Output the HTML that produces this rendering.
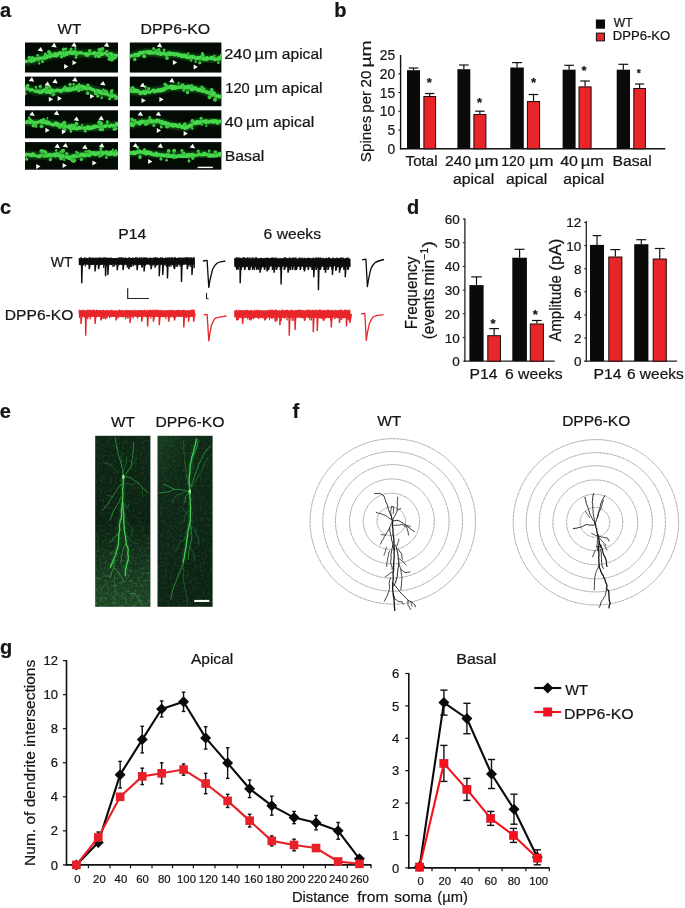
<!DOCTYPE html>
<html lang="en"><head><meta charset="utf-8"><title>Figure</title>
<style>
html,body{margin:0;padding:0;background:#fff;}
svg{display:block;font-family:"Liberation Sans",Arial,Helvetica,sans-serif;}
text{fill:#151515;stroke:#151515;stroke-width:0.22px;}
</style></head>
<body>
<svg width="685" height="908" viewBox="0 0 685 908">
<rect x="0" y="0" width="685" height="908" fill="#ffffff"/>
<text x="0.1" y="17" font-size="20" text-anchor="start" font-weight="bold" fill="#0a0a0a" >a</text>
<text x="334.2" y="17" font-size="20" text-anchor="start" font-weight="bold" fill="#0a0a0a" >b</text>
<text x="0.1" y="214.2" font-size="20" text-anchor="start" font-weight="bold" fill="#0a0a0a" >c</text>
<text x="406.9" y="214.3" font-size="20" text-anchor="start" font-weight="bold" fill="#0a0a0a" >d</text>
<text x="-0.2" y="418.2" font-size="20" text-anchor="start" font-weight="bold" fill="#0a0a0a" >e</text>
<text x="292.4" y="418.2" font-size="20" text-anchor="start" font-weight="bold" fill="#0a0a0a" >f</text>
<text x="0.1" y="654" font-size="20" text-anchor="start" font-weight="bold" fill="#0a0a0a" >g</text>
<text transform="translate(57.62,34.30) scale(0.9825,1)" font-size="15.5" fill="#1a1a1a">WT</text>
<text transform="translate(140.53,34.40) scale(1.0241,1)" font-size="15.5" fill="#1a1a1a">DPP6-KO</text>
<defs><filter id="bl" x="-5%" y="-50%" width="110%" height="200%"><feGaussianBlur stdDeviation="0.7"/></filter><filter id="bl2" x="-5%" y="-50%" width="110%" height="200%"><feGaussianBlur stdDeviation="1.6"/></filter></defs>
<rect x="25.00" y="42.50" width="93.00" height="30.05" fill="#040b05" stroke="none" stroke-width="0" />
<clipPath id="cp1"><rect x="25.0" y="42.5" width="93.00" height="30.05"/></clipPath>
<g clip-path="url(#cp1)">
<path d="M24.9,61.8 L39.9,58.7 L53.7,54.9 L70.6,52.6 L87.4,54.1 L102.8,53.3 L118.2,55.6" fill="none" stroke="#1f7a24" stroke-width="6.5" stroke-linejoin="round" filter="url(#bl2)" opacity="0.75"/>
<g fill="#46d84c" filter="url(#bl)"><circle cx="24.8" cy="61.2" r="2.0"/><circle cx="26.0" cy="61.6" r="1.6"/><circle cx="27.4" cy="61.2" r="1.2"/><circle cx="29.0" cy="60.2" r="1.3"/><circle cx="30.3" cy="61.3" r="1.3"/><circle cx="31.6" cy="60.6" r="2.3"/><circle cx="33.1" cy="59.9" r="2.4"/><circle cx="34.2" cy="60.5" r="1.5"/><circle cx="35.6" cy="58.9" r="1.6"/><circle cx="37.4" cy="58.7" r="1.9"/><circle cx="38.6" cy="58.8" r="1.9"/><circle cx="39.6" cy="57.9" r="1.4"/><circle cx="41.3" cy="58.2" r="1.6"/><circle cx="42.5" cy="57.9" r="1.6"/><circle cx="43.8" cy="58.0" r="1.5"/><circle cx="45.0" cy="57.4" r="2.3"/><circle cx="46.3" cy="56.6" r="2.4"/><circle cx="47.2" cy="56.5" r="2.1"/><circle cx="48.5" cy="56.3" r="1.2"/><circle cx="50.0" cy="56.4" r="1.9"/><circle cx="51.4" cy="55.3" r="2.0"/><circle cx="52.5" cy="55.4" r="1.7"/><circle cx="53.9" cy="55.7" r="1.8"/><circle cx="55.1" cy="53.9" r="2.0"/><circle cx="56.4" cy="55.4" r="2.2"/><circle cx="57.5" cy="54.2" r="2.0"/><circle cx="58.6" cy="54.1" r="1.4"/><circle cx="60.0" cy="53.2" r="2.1"/><circle cx="61.3" cy="53.4" r="1.7"/><circle cx="63.0" cy="52.9" r="1.7"/><circle cx="64.1" cy="54.2" r="2.2"/><circle cx="65.6" cy="52.9" r="1.7"/><circle cx="66.6" cy="53.8" r="2.3"/><circle cx="67.8" cy="52.4" r="1.5"/><circle cx="69.1" cy="52.7" r="1.9"/><circle cx="70.5" cy="51.7" r="1.7"/><circle cx="71.9" cy="52.8" r="2.3"/><circle cx="73.5" cy="52.9" r="1.9"/><circle cx="74.9" cy="52.2" r="2.3"/><circle cx="76.4" cy="53.8" r="2.2"/><circle cx="77.5" cy="53.0" r="1.3"/><circle cx="79.1" cy="52.6" r="1.3"/><circle cx="80.2" cy="52.9" r="1.6"/><circle cx="81.5" cy="52.7" r="1.4"/><circle cx="83.0" cy="53.5" r="1.2"/><circle cx="84.8" cy="54.1" r="1.4"/><circle cx="85.9" cy="53.7" r="1.6"/><circle cx="87.2" cy="54.7" r="2.4"/><circle cx="88.8" cy="54.0" r="1.3"/><circle cx="90.0" cy="53.7" r="1.5"/><circle cx="91.8" cy="53.3" r="1.2"/><circle cx="93.3" cy="53.9" r="1.4"/><circle cx="94.4" cy="52.9" r="1.8"/><circle cx="96.1" cy="54.3" r="2.0"/><circle cx="97.1" cy="53.4" r="1.4"/><circle cx="98.8" cy="53.6" r="2.1"/><circle cx="99.9" cy="52.9" r="2.2"/><circle cx="101.7" cy="54.0" r="2.2"/><circle cx="103.0" cy="53.7" r="1.5"/><circle cx="104.2" cy="53.2" r="1.2"/><circle cx="105.3" cy="53.3" r="1.5"/><circle cx="107.1" cy="54.7" r="1.7"/><circle cx="108.7" cy="55.0" r="2.3"/><circle cx="109.7" cy="53.8" r="1.5"/><circle cx="111.0" cy="54.0" r="1.9"/><circle cx="112.8" cy="55.4" r="1.8"/><circle cx="114.1" cy="55.5" r="1.3"/><circle cx="115.5" cy="55.9" r="2.1"/><circle cx="117.0" cy="55.4" r="1.4"/></g>
<g fill="#40d046" filter="url(#bl)"><circle cx="99.2" cy="56.0" r="1.9"/><path d="M98.6,53.5 L99.2,56.0" stroke="#34b83a" stroke-width="0.9"/><circle cx="65.9" cy="48.7" r="1.2"/><path d="M66.8,53.1 L65.9,48.7" stroke="#34b83a" stroke-width="0.9"/><circle cx="39.3" cy="63.6" r="1.1"/><path d="M38.5,59.0 L39.3,63.6" stroke="#34b83a" stroke-width="0.9"/><circle cx="115.1" cy="58.0" r="1.5"/><path d="M116.3,55.3 L115.1,58.0" stroke="#34b83a" stroke-width="0.9"/><circle cx="99.4" cy="49.7" r="1.9"/><path d="M99.6,53.5 L99.4,49.7" stroke="#34b83a" stroke-width="0.9"/><circle cx="106.3" cy="51.5" r="1.2"/><path d="M106.3,53.8 L106.3,51.5" stroke="#34b83a" stroke-width="0.9"/><circle cx="95.4" cy="56.6" r="1.4"/><path d="M96.3,53.6 L95.4,56.6" stroke="#34b83a" stroke-width="0.9"/><circle cx="110.6" cy="59.2" r="1.7"/><path d="M109.8,54.3 L110.6,59.2" stroke="#34b83a" stroke-width="0.9"/><circle cx="71.1" cy="49.0" r="1.5"/><path d="M72.2,52.7 L71.1,49.0" stroke="#34b83a" stroke-width="0.9"/><circle cx="63.6" cy="49.4" r="1.8"/><path d="M64.5,53.4 L63.6,49.4" stroke="#34b83a" stroke-width="0.9"/><circle cx="37.7" cy="55.3" r="1.3"/><path d="M37.6,59.2 L37.7,55.3" stroke="#34b83a" stroke-width="0.9"/><circle cx="75.4" cy="48.2" r="1.1"/><path d="M76.1,53.1 L75.4,48.2" stroke="#34b83a" stroke-width="0.9"/><circle cx="29.3" cy="57.3" r="1.6"/><path d="M28.7,61.0 L29.3,57.3" stroke="#34b83a" stroke-width="0.9"/><circle cx="110.3" cy="57.6" r="2.0"/><path d="M110.0,54.4 L110.3,57.6" stroke="#34b83a" stroke-width="0.9"/><circle cx="42.5" cy="61.5" r="1.5"/><path d="M42.6,58.0 L42.5,61.5" stroke="#34b83a" stroke-width="0.9"/><circle cx="112.0" cy="59.7" r="1.9"/><path d="M112.7,54.8 L112.0,59.7" stroke="#34b83a" stroke-width="0.9"/><circle cx="64.2" cy="55.9" r="1.4"/><path d="M65.2,53.3 L64.2,55.9" stroke="#34b83a" stroke-width="0.9"/><circle cx="45.1" cy="54.2" r="1.3"/><path d="M46.0,57.0 L45.1,54.2" stroke="#34b83a" stroke-width="0.9"/><circle cx="98.6" cy="56.2" r="1.9"/><path d="M97.5,53.6 L98.6,56.2" stroke="#34b83a" stroke-width="0.9"/><circle cx="45.4" cy="54.1" r="1.5"/><path d="M44.3,57.5 L45.4,54.1" stroke="#34b83a" stroke-width="0.9"/><circle cx="102.4" cy="49.0" r="2.0"/><path d="M102.6,53.3 L102.4,49.0" stroke="#34b83a" stroke-width="0.9"/><circle cx="61.4" cy="56.8" r="1.7"/><path d="M62.6,53.7 L61.4,56.8" stroke="#34b83a" stroke-width="0.9"/><circle cx="76.0" cy="57.4" r="1.4"/><path d="M76.0,53.1 L76.0,57.4" stroke="#34b83a" stroke-width="0.9"/><circle cx="49.9" cy="53.2" r="1.9"/><path d="M50.5,55.8 L49.9,53.2" stroke="#34b83a" stroke-width="0.9"/><circle cx="107.4" cy="50.9" r="1.0"/><path d="M106.7,53.9 L107.4,50.9" stroke="#34b83a" stroke-width="0.9"/><circle cx="48.9" cy="51.7" r="1.8"/><path d="M48.5,56.3 L48.9,51.7" stroke="#34b83a" stroke-width="0.9"/><circle cx="113.3" cy="57.5" r="1.9"/><path d="M113.1,54.8 L113.3,57.5" stroke="#34b83a" stroke-width="0.9"/><circle cx="89.7" cy="50.9" r="1.8"/><path d="M90.5,53.9 L89.7,50.9" stroke="#34b83a" stroke-width="0.9"/><circle cx="109.2" cy="59.2" r="1.6"/><path d="M108.4,54.1 L109.2,59.2" stroke="#34b83a" stroke-width="0.9"/><circle cx="32.3" cy="57.8" r="1.9"/><path d="M32.4,60.2 L32.3,57.8" stroke="#34b83a" stroke-width="0.9"/></g>
</g>
<polygon points="37.6,50.8 40.8,46.9 43.1,51.6" fill="#f6fff6"/>
<polygon points="51.2,46.7 54.4,42.8 56.7,47.5" fill="#f6fff6"/>
<polygon points="71.2,46.2 74.4,42.3 76.7,47.0" fill="#f6fff6"/>
<polygon points="103.8,46.2 107.0,42.3 109.3,47.0" fill="#f6fff6"/>
<polygon points="64.1,63.9 64.1,68.9 68.4,66.4" fill="#f6fff6"/>
<polygon points="72.5,60.3 72.5,65.3 76.8,62.8" fill="#f6fff6"/>
<rect x="25.00" y="76.60" width="93.00" height="29.60" fill="#040b05" stroke="none" stroke-width="0" />
<clipPath id="cp2"><rect x="25.0" y="76.6" width="93.00" height="29.60"/></clipPath>
<g clip-path="url(#cp2)">
<path d="M24.9,88.6 L38.4,91.6 L58.3,90.9 L73.6,88.6 L81.3,87.0 L92.0,89.3 L105.8,93.9 L118.2,97.0" fill="none" stroke="#1f7a24" stroke-width="6.5" stroke-linejoin="round" filter="url(#bl2)" opacity="0.75"/>
<g fill="#46d84c" filter="url(#bl)"><circle cx="24.8" cy="88.7" r="2.3"/><circle cx="26.1" cy="88.2" r="1.8"/><circle cx="27.4" cy="88.5" r="1.4"/><circle cx="28.7" cy="89.0" r="1.6"/><circle cx="30.2" cy="90.3" r="1.5"/><circle cx="31.7" cy="89.5" r="1.6"/><circle cx="32.7" cy="90.0" r="1.2"/><circle cx="34.5" cy="90.8" r="1.4"/><circle cx="35.7" cy="91.8" r="1.3"/><circle cx="37.2" cy="91.2" r="1.8"/><circle cx="38.6" cy="91.4" r="1.8"/><circle cx="39.8" cy="92.4" r="1.6"/><circle cx="41.3" cy="91.9" r="2.0"/><circle cx="42.3" cy="91.2" r="1.3"/><circle cx="43.5" cy="90.6" r="2.1"/><circle cx="44.9" cy="90.8" r="1.3"/><circle cx="46.6" cy="92.0" r="2.0"/><circle cx="47.6" cy="90.8" r="1.6"/><circle cx="49.0" cy="90.6" r="1.7"/><circle cx="50.2" cy="92.0" r="2.4"/><circle cx="51.7" cy="90.7" r="2.4"/><circle cx="52.9" cy="90.8" r="1.2"/><circle cx="54.2" cy="91.0" r="1.8"/><circle cx="55.5" cy="91.0" r="1.2"/><circle cx="56.8" cy="90.2" r="1.7"/><circle cx="58.0" cy="90.0" r="1.6"/><circle cx="59.5" cy="90.8" r="1.8"/><circle cx="61.2" cy="90.8" r="2.1"/><circle cx="62.7" cy="90.1" r="1.6"/><circle cx="64.2" cy="89.4" r="2.1"/><circle cx="65.3" cy="89.0" r="2.2"/><circle cx="66.9" cy="89.9" r="2.1"/><circle cx="68.2" cy="88.8" r="1.8"/><circle cx="69.4" cy="89.8" r="2.2"/><circle cx="71.0" cy="89.2" r="2.3"/><circle cx="72.3" cy="89.2" r="1.5"/><circle cx="73.3" cy="87.9" r="1.6"/><circle cx="74.6" cy="88.9" r="1.9"/><circle cx="76.2" cy="88.3" r="2.0"/><circle cx="77.4" cy="86.9" r="2.2"/><circle cx="78.9" cy="87.5" r="1.8"/><circle cx="80.1" cy="86.5" r="2.1"/><circle cx="81.2" cy="86.2" r="1.5"/><circle cx="82.8" cy="86.8" r="2.1"/><circle cx="84.3" cy="87.6" r="1.7"/><circle cx="85.3" cy="88.2" r="2.1"/><circle cx="86.7" cy="88.4" r="1.3"/><circle cx="87.8" cy="88.0" r="2.1"/><circle cx="89.2" cy="88.8" r="1.2"/><circle cx="90.4" cy="88.6" r="2.0"/><circle cx="92.1" cy="89.6" r="1.5"/><circle cx="93.3" cy="89.7" r="1.8"/><circle cx="94.3" cy="90.8" r="1.4"/><circle cx="96.1" cy="91.3" r="1.2"/><circle cx="97.0" cy="91.5" r="2.4"/><circle cx="98.2" cy="91.0" r="1.5"/><circle cx="99.8" cy="91.3" r="1.9"/><circle cx="100.6" cy="92.3" r="2.3"/><circle cx="101.8" cy="93.2" r="1.8"/><circle cx="103.5" cy="93.4" r="1.5"/><circle cx="104.8" cy="93.5" r="1.2"/><circle cx="105.5" cy="93.9" r="1.7"/><circle cx="107.1" cy="93.6" r="1.6"/><circle cx="108.4" cy="95.2" r="1.2"/><circle cx="110.1" cy="95.5" r="1.3"/><circle cx="111.6" cy="95.7" r="2.3"/><circle cx="112.6" cy="95.4" r="1.7"/><circle cx="114.4" cy="96.1" r="1.6"/><circle cx="115.4" cy="95.9" r="1.3"/><circle cx="116.6" cy="97.3" r="1.5"/></g>
<g fill="#40d046" filter="url(#bl)"><circle cx="112.1" cy="90.5" r="1.4"/><path d="M112.5,95.6 L112.1,90.5" stroke="#34b83a" stroke-width="0.9"/><circle cx="97.9" cy="96.0" r="1.8"/><path d="M97.6,91.2 L97.9,96.0" stroke="#34b83a" stroke-width="0.9"/><circle cx="111.2" cy="90.7" r="1.0"/><path d="M110.6,95.1 L111.2,90.7" stroke="#34b83a" stroke-width="0.9"/><circle cx="73.7" cy="84.2" r="1.3"/><path d="M74.8,88.4 L73.7,84.2" stroke="#34b83a" stroke-width="0.9"/><circle cx="111.2" cy="92.7" r="1.4"/><path d="M111.8,95.4 L111.2,92.7" stroke="#34b83a" stroke-width="0.9"/><circle cx="54.0" cy="94.5" r="1.2"/><path d="M54.1,91.0 L54.0,94.5" stroke="#34b83a" stroke-width="0.9"/><circle cx="87.8" cy="85.9" r="1.2"/><path d="M88.5,88.6 L87.8,85.9" stroke="#34b83a" stroke-width="0.9"/><circle cx="109.6" cy="98.8" r="1.5"/><path d="M110.0,94.9 L109.6,98.8" stroke="#34b83a" stroke-width="0.9"/><circle cx="95.3" cy="93.3" r="1.2"/><path d="M96.3,90.7 L95.3,93.3" stroke="#34b83a" stroke-width="0.9"/><circle cx="65.0" cy="86.8" r="1.4"/><path d="M64.3,90.0 L65.0,86.8" stroke="#34b83a" stroke-width="0.9"/><circle cx="46.4" cy="86.9" r="1.4"/><path d="M46.6,91.3 L46.4,86.9" stroke="#34b83a" stroke-width="0.9"/><circle cx="78.7" cy="90.5" r="1.8"/><path d="M78.7,87.5 L78.7,90.5" stroke="#34b83a" stroke-width="0.9"/><circle cx="81.8" cy="89.6" r="1.5"/><path d="M81.5,87.0 L81.8,89.6" stroke="#34b83a" stroke-width="0.9"/><circle cx="105.9" cy="91.5" r="1.9"/><path d="M106.2,94.0 L105.9,91.5" stroke="#34b83a" stroke-width="0.9"/><circle cx="87.7" cy="93.2" r="1.8"/><path d="M86.8,88.2 L87.7,93.2" stroke="#34b83a" stroke-width="0.9"/><circle cx="27.7" cy="85.6" r="1.8"/><path d="M27.0,89.1 L27.7,85.6" stroke="#34b83a" stroke-width="0.9"/><circle cx="116.4" cy="98.5" r="1.4"/><path d="M115.4,96.3 L116.4,98.5" stroke="#34b83a" stroke-width="0.9"/><circle cx="101.7" cy="98.0" r="1.2"/><path d="M102.7,92.9 L101.7,98.0" stroke="#34b83a" stroke-width="0.9"/><circle cx="40.3" cy="86.5" r="1.7"/><path d="M40.0,91.5 L40.3,86.5" stroke="#34b83a" stroke-width="0.9"/><circle cx="95.6" cy="93.4" r="1.8"/><path d="M96.8,90.9 L95.6,93.4" stroke="#34b83a" stroke-width="0.9"/><circle cx="35.9" cy="87.1" r="1.3"/><path d="M36.8,91.2 L35.9,87.1" stroke="#34b83a" stroke-width="0.9"/><circle cx="52.5" cy="95.4" r="1.1"/><path d="M53.5,91.1 L52.5,95.4" stroke="#34b83a" stroke-width="0.9"/><circle cx="79.0" cy="84.2" r="1.2"/><path d="M78.7,87.5 L79.0,84.2" stroke="#34b83a" stroke-width="0.9"/><circle cx="25.4" cy="94.0" r="1.3"/><path d="M25.9,88.8 L25.4,94.0" stroke="#34b83a" stroke-width="0.9"/><circle cx="103.4" cy="89.7" r="1.2"/><path d="M104.0,93.3 L103.4,89.7" stroke="#34b83a" stroke-width="0.9"/><circle cx="115.6" cy="98.5" r="1.2"/><path d="M114.7,96.1 L115.6,98.5" stroke="#34b83a" stroke-width="0.9"/><circle cx="87.9" cy="85.2" r="1.7"/><path d="M86.9,88.2 L87.9,85.2" stroke="#34b83a" stroke-width="0.9"/><circle cx="49.7" cy="86.9" r="1.7"/><path d="M50.1,91.2 L49.7,86.9" stroke="#34b83a" stroke-width="0.9"/><circle cx="70.1" cy="84.5" r="1.7"/><path d="M70.1,89.1 L70.1,84.5" stroke="#34b83a" stroke-width="0.9"/><circle cx="46.4" cy="88.2" r="1.8"/><path d="M47.1,91.3 L46.4,88.2" stroke="#34b83a" stroke-width="0.9"/></g>
</g>
<polygon points="28.7,81.0 31.9,77.1 34.2,81.8" fill="#f6fff6"/>
<polygon points="44.5,85.3 47.7,81.4 50.0,86.1" fill="#f6fff6"/>
<polygon points="52.2,82.7 55.4,78.8 57.7,83.5" fill="#f6fff6"/>
<polygon points="72.1,81.0 75.3,77.1 77.6,81.8" fill="#f6fff6"/>
<polygon points="100.0,84.8 103.2,80.9 105.5,85.6" fill="#f6fff6"/>
<polygon points="48.8,96.8 48.8,101.8 53.1,99.3" fill="#f6fff6"/>
<polygon points="57.6,96.0 57.6,101.0 61.9,98.5" fill="#f6fff6"/>
<polygon points="90.1,93.7 90.1,98.7 94.4,96.2" fill="#f6fff6"/>
<rect x="25.00" y="110.30" width="93.00" height="28.00" fill="#040b05" stroke="none" stroke-width="0" />
<clipPath id="cp3"><rect x="25.0" y="110.3" width="93.00" height="28.00"/></clipPath>
<g clip-path="url(#cp3)">
<path d="M24.9,122.1 L43.0,122.1 L61.4,125.2 L75.2,128.2 L89.0,127.5 L102.8,126.7 L118.2,124.4" fill="none" stroke="#1f7a24" stroke-width="6.5" stroke-linejoin="round" filter="url(#bl2)" opacity="0.75"/>
<g fill="#46d84c" filter="url(#bl)"><circle cx="24.7" cy="122.6" r="1.6"/><circle cx="26.6" cy="122.1" r="1.4"/><circle cx="27.5" cy="122.0" r="2.0"/><circle cx="29.3" cy="121.5" r="1.7"/><circle cx="30.3" cy="123.0" r="1.4"/><circle cx="31.6" cy="121.3" r="1.7"/><circle cx="33.5" cy="122.8" r="2.1"/><circle cx="34.9" cy="122.9" r="1.6"/><circle cx="35.8" cy="122.9" r="2.1"/><circle cx="37.1" cy="122.4" r="1.7"/><circle cx="38.7" cy="121.8" r="1.4"/><circle cx="39.9" cy="121.7" r="1.6"/><circle cx="41.9" cy="121.4" r="2.4"/><circle cx="42.8" cy="121.8" r="2.2"/><circle cx="44.5" cy="122.2" r="1.3"/><circle cx="45.6" cy="122.3" r="2.3"/><circle cx="46.8" cy="122.5" r="2.3"/><circle cx="48.0" cy="122.8" r="2.2"/><circle cx="49.7" cy="122.4" r="1.2"/><circle cx="50.6" cy="124.2" r="1.5"/><circle cx="52.3" cy="124.4" r="1.6"/><circle cx="53.4" cy="124.7" r="1.9"/><circle cx="54.7" cy="124.5" r="1.6"/><circle cx="56.0" cy="123.4" r="2.1"/><circle cx="57.7" cy="124.8" r="2.3"/><circle cx="58.5" cy="124.3" r="1.8"/><circle cx="60.4" cy="125.8" r="1.7"/><circle cx="61.3" cy="125.1" r="1.8"/><circle cx="63.0" cy="124.9" r="2.2"/><circle cx="64.3" cy="126.4" r="2.1"/><circle cx="65.6" cy="125.8" r="1.6"/><circle cx="66.8" cy="126.9" r="1.3"/><circle cx="68.1" cy="127.2" r="1.5"/><circle cx="69.4" cy="126.2" r="1.9"/><circle cx="71.0" cy="128.2" r="2.3"/><circle cx="72.7" cy="127.2" r="1.3"/><circle cx="73.6" cy="127.9" r="2.1"/><circle cx="75.2" cy="127.7" r="1.7"/><circle cx="76.7" cy="128.4" r="2.1"/><circle cx="78.2" cy="128.4" r="1.3"/><circle cx="79.5" cy="127.6" r="1.9"/><circle cx="80.6" cy="128.3" r="1.4"/><circle cx="81.9" cy="127.4" r="1.4"/><circle cx="83.7" cy="127.9" r="1.6"/><circle cx="84.8" cy="128.6" r="1.8"/><circle cx="86.1" cy="128.2" r="2.0"/><circle cx="87.9" cy="126.9" r="1.8"/><circle cx="89.2" cy="128.1" r="2.3"/><circle cx="90.1" cy="127.0" r="1.3"/><circle cx="91.6" cy="128.2" r="1.9"/><circle cx="93.4" cy="127.0" r="2.2"/><circle cx="94.5" cy="126.7" r="2.1"/><circle cx="96.2" cy="126.4" r="1.9"/><circle cx="97.4" cy="126.5" r="1.6"/><circle cx="98.4" cy="126.4" r="1.5"/><circle cx="100.1" cy="127.1" r="1.4"/><circle cx="101.1" cy="126.5" r="2.0"/><circle cx="102.6" cy="126.4" r="1.4"/><circle cx="104.4" cy="126.6" r="1.3"/><circle cx="105.4" cy="126.1" r="1.9"/><circle cx="107.1" cy="125.3" r="1.4"/><circle cx="108.5" cy="125.7" r="1.5"/><circle cx="109.7" cy="126.5" r="1.6"/><circle cx="111.2" cy="125.2" r="1.7"/><circle cx="112.8" cy="126.1" r="1.6"/><circle cx="113.8" cy="125.4" r="1.4"/><circle cx="115.1" cy="125.5" r="1.7"/><circle cx="117.0" cy="124.4" r="2.3"/></g>
<g fill="#40d046" filter="url(#bl)"><circle cx="71.1" cy="124.9" r="1.1"/><path d="M71.9,127.5 L71.1,124.9" stroke="#34b83a" stroke-width="0.9"/><circle cx="100.2" cy="129.3" r="1.6"/><path d="M100.5,126.8 L100.2,129.3" stroke="#34b83a" stroke-width="0.9"/><circle cx="74.7" cy="124.9" r="1.2"/><path d="M75.5,128.2 L74.7,124.9" stroke="#34b83a" stroke-width="0.9"/><circle cx="33.3" cy="125.8" r="1.8"/><path d="M32.2,122.1 L33.3,125.8" stroke="#34b83a" stroke-width="0.9"/><circle cx="47.4" cy="118.0" r="1.0"/><path d="M46.4,122.7 L47.4,118.0" stroke="#34b83a" stroke-width="0.9"/><circle cx="59.7" cy="127.3" r="1.7"/><path d="M59.3,124.8 L59.7,127.3" stroke="#34b83a" stroke-width="0.9"/><circle cx="107.3" cy="121.9" r="1.6"/><path d="M108.1,125.9 L107.3,121.9" stroke="#34b83a" stroke-width="0.9"/><circle cx="72.1" cy="125.4" r="1.9"/><path d="M72.9,127.7 L72.1,125.4" stroke="#34b83a" stroke-width="0.9"/><circle cx="64.5" cy="122.7" r="1.7"/><path d="M63.5,125.7 L64.5,122.7" stroke="#34b83a" stroke-width="0.9"/><circle cx="29.1" cy="117.9" r="1.3"/><path d="M29.4,122.1 L29.1,117.9" stroke="#34b83a" stroke-width="0.9"/><circle cx="70.9" cy="131.5" r="1.3"/><path d="M71.5,127.4 L70.9,131.5" stroke="#34b83a" stroke-width="0.9"/><circle cx="64.9" cy="129.7" r="1.4"/><path d="M66.0,126.2 L64.9,129.7" stroke="#34b83a" stroke-width="0.9"/><circle cx="85.3" cy="131.3" r="1.4"/><path d="M85.0,127.7 L85.3,131.3" stroke="#34b83a" stroke-width="0.9"/><circle cx="100.5" cy="122.1" r="1.4"/><path d="M101.5,126.8 L100.5,122.1" stroke="#34b83a" stroke-width="0.9"/><circle cx="63.5" cy="128.1" r="1.4"/><path d="M63.5,125.6 L63.5,128.1" stroke="#34b83a" stroke-width="0.9"/><circle cx="30.0" cy="119.7" r="1.7"/><path d="M29.3,122.1 L30.0,119.7" stroke="#34b83a" stroke-width="0.9"/><circle cx="76.5" cy="123.7" r="1.9"/><path d="M76.1,128.2 L76.5,123.7" stroke="#34b83a" stroke-width="0.9"/><circle cx="99.2" cy="122.2" r="2.0"/><path d="M98.7,126.9 L99.2,122.2" stroke="#34b83a" stroke-width="0.9"/><circle cx="100.7" cy="124.2" r="1.9"/><path d="M101.2,126.8 L100.7,124.2" stroke="#34b83a" stroke-width="0.9"/><circle cx="100.2" cy="122.6" r="1.7"/><path d="M100.9,126.8 L100.2,122.6" stroke="#34b83a" stroke-width="0.9"/><circle cx="102.2" cy="129.4" r="1.9"/><path d="M102.7,126.7 L102.2,129.4" stroke="#34b83a" stroke-width="0.9"/><circle cx="101.2" cy="123.8" r="2.0"/><path d="M101.3,126.8 L101.2,123.8" stroke="#34b83a" stroke-width="0.9"/><circle cx="82.0" cy="124.7" r="1.0"/><path d="M82.8,127.8 L82.0,124.7" stroke="#34b83a" stroke-width="0.9"/><circle cx="41.6" cy="126.3" r="1.9"/><path d="M42.4,122.1 L41.6,126.3" stroke="#34b83a" stroke-width="0.9"/><circle cx="99.6" cy="122.4" r="1.0"/><path d="M98.7,126.9 L99.6,122.4" stroke="#34b83a" stroke-width="0.9"/><circle cx="115.9" cy="128.7" r="1.6"/><path d="M115.0,124.9 L115.9,128.7" stroke="#34b83a" stroke-width="0.9"/><circle cx="36.0" cy="126.5" r="1.4"/><path d="M36.2,122.1 L36.0,126.5" stroke="#34b83a" stroke-width="0.9"/><circle cx="64.2" cy="122.6" r="1.8"/><path d="M64.3,125.8 L64.2,122.6" stroke="#34b83a" stroke-width="0.9"/><circle cx="43.6" cy="119.2" r="1.5"/><path d="M44.1,122.3 L43.6,119.2" stroke="#34b83a" stroke-width="0.9"/><circle cx="114.3" cy="129.3" r="1.7"/><path d="M115.0,124.9 L114.3,129.3" stroke="#34b83a" stroke-width="0.9"/></g>
</g>
<polygon points="29.2,115.3 32.4,111.4 34.7,116.1" fill="#f6fff6"/>
<polygon points="53.7,114.5 56.9,110.6 59.2,115.3" fill="#f6fff6"/>
<polygon points="73.6,120.3 76.8,116.4 79.1,121.1" fill="#f6fff6"/>
<polygon points="98.4,119.6 101.6,115.7 103.9,120.4" fill="#f6fff6"/>
<polygon points="45.4,127.7 45.4,132.7 49.7,130.2" fill="#f6fff6"/>
<polygon points="61.8,129.3 61.8,134.3 66.1,131.8" fill="#f6fff6"/>
<rect x="25.00" y="142.10" width="93.00" height="27.60" fill="#040b05" stroke="none" stroke-width="0" />
<clipPath id="cp4"><rect x="25.0" y="142.1" width="93.00" height="27.60"/></clipPath>
<g clip-path="url(#cp4)">
<path d="M24.9,155.0 L43.0,155.8 L58.3,155.0 L70.6,157.3 L84.4,155.0 L99.7,152.8 L118.2,153.5" fill="none" stroke="#1f7a24" stroke-width="6.5" stroke-linejoin="round" filter="url(#bl2)" opacity="0.75"/>
<g fill="#46d84c" filter="url(#bl)"><circle cx="24.8" cy="155.2" r="1.7"/><circle cx="26.2" cy="154.2" r="1.8"/><circle cx="27.8" cy="154.3" r="1.3"/><circle cx="29.1" cy="154.8" r="1.8"/><circle cx="30.5" cy="155.1" r="1.6"/><circle cx="31.6" cy="155.1" r="2.2"/><circle cx="33.0" cy="154.5" r="2.2"/><circle cx="34.8" cy="155.3" r="1.3"/><circle cx="35.8" cy="155.8" r="1.5"/><circle cx="37.6" cy="156.4" r="1.3"/><circle cx="39.0" cy="156.3" r="1.9"/><circle cx="40.3" cy="155.9" r="1.8"/><circle cx="41.6" cy="155.1" r="1.2"/><circle cx="42.7" cy="154.9" r="1.4"/><circle cx="44.2" cy="156.5" r="1.3"/><circle cx="45.8" cy="155.9" r="1.4"/><circle cx="47.1" cy="155.6" r="2.0"/><circle cx="48.7" cy="155.4" r="1.9"/><circle cx="50.0" cy="154.7" r="2.0"/><circle cx="51.6" cy="155.8" r="1.8"/><circle cx="52.8" cy="155.1" r="1.7"/><circle cx="54.4" cy="154.5" r="2.0"/><circle cx="55.3" cy="156.0" r="1.5"/><circle cx="57.0" cy="154.4" r="2.3"/><circle cx="58.6" cy="155.8" r="1.5"/><circle cx="59.4" cy="155.5" r="2.0"/><circle cx="61.1" cy="156.3" r="2.4"/><circle cx="62.3" cy="156.5" r="2.3"/><circle cx="63.5" cy="156.0" r="1.4"/><circle cx="65.4" cy="156.9" r="1.4"/><circle cx="66.3" cy="157.3" r="1.4"/><circle cx="67.8" cy="157.0" r="1.7"/><circle cx="69.4" cy="157.8" r="2.4"/><circle cx="70.8" cy="157.4" r="1.8"/><circle cx="72.0" cy="156.2" r="1.2"/><circle cx="73.6" cy="156.4" r="2.3"/><circle cx="74.9" cy="156.4" r="1.9"/><circle cx="76.2" cy="155.8" r="1.2"/><circle cx="77.3" cy="156.4" r="1.4"/><circle cx="79.2" cy="156.3" r="1.2"/><circle cx="80.0" cy="155.9" r="1.3"/><circle cx="81.4" cy="154.6" r="2.2"/><circle cx="83.2" cy="154.7" r="2.3"/><circle cx="84.4" cy="155.3" r="2.3"/><circle cx="85.9" cy="155.2" r="1.7"/><circle cx="87.0" cy="154.1" r="1.2"/><circle cx="88.8" cy="155.1" r="2.1"/><circle cx="89.7" cy="154.7" r="2.0"/><circle cx="91.3" cy="153.3" r="2.2"/><circle cx="92.8" cy="153.4" r="1.6"/><circle cx="94.0" cy="153.3" r="2.3"/><circle cx="95.3" cy="153.9" r="2.3"/><circle cx="97.1" cy="153.4" r="1.8"/><circle cx="98.2" cy="153.4" r="2.1"/><circle cx="99.4" cy="152.8" r="1.3"/><circle cx="101.0" cy="152.0" r="1.9"/><circle cx="102.5" cy="153.5" r="1.9"/><circle cx="103.5" cy="152.8" r="1.8"/><circle cx="104.9" cy="153.5" r="1.3"/><circle cx="106.2" cy="152.3" r="2.0"/><circle cx="107.8" cy="153.9" r="1.9"/><circle cx="109.2" cy="153.2" r="1.9"/><circle cx="110.1" cy="153.8" r="2.3"/><circle cx="111.4" cy="152.6" r="2.3"/><circle cx="113.1" cy="153.3" r="2.4"/><circle cx="114.3" cy="152.6" r="1.6"/><circle cx="115.3" cy="154.2" r="2.3"/><circle cx="117.0" cy="153.3" r="2.0"/></g>
<g fill="#40d046" filter="url(#bl)"><circle cx="61.1" cy="158.5" r="1.9"/><path d="M61.1,155.5 L61.1,158.5" stroke="#34b83a" stroke-width="0.9"/><circle cx="61.9" cy="150.6" r="1.1"/><path d="M61.7,155.6 L61.9,150.6" stroke="#34b83a" stroke-width="0.9"/><circle cx="85.6" cy="151.5" r="1.3"/><path d="M86.4,154.7 L85.6,151.5" stroke="#34b83a" stroke-width="0.9"/><circle cx="101.3" cy="155.5" r="1.4"/><path d="M100.7,152.8 L101.3,155.5" stroke="#34b83a" stroke-width="0.9"/><circle cx="77.6" cy="153.0" r="1.6"/><path d="M77.1,156.2 L77.6,153.0" stroke="#34b83a" stroke-width="0.9"/><circle cx="72.0" cy="160.3" r="1.7"/><path d="M71.2,157.2 L72.0,160.3" stroke="#34b83a" stroke-width="0.9"/><circle cx="41.9" cy="150.6" r="1.7"/><path d="M41.7,155.7 L41.9,150.6" stroke="#34b83a" stroke-width="0.9"/><circle cx="60.5" cy="152.0" r="1.2"/><path d="M59.4,155.2 L60.5,152.0" stroke="#34b83a" stroke-width="0.9"/><circle cx="89.3" cy="151.5" r="1.7"/><path d="M90.0,154.2 L89.3,151.5" stroke="#34b83a" stroke-width="0.9"/><circle cx="41.1" cy="151.1" r="1.7"/><path d="M41.3,155.7 L41.1,151.1" stroke="#34b83a" stroke-width="0.9"/><circle cx="45.6" cy="152.6" r="1.9"/><path d="M45.7,155.7 L45.6,152.6" stroke="#34b83a" stroke-width="0.9"/><circle cx="26.6" cy="159.3" r="1.5"/><path d="M26.3,155.1 L26.6,159.3" stroke="#34b83a" stroke-width="0.9"/><circle cx="66.7" cy="153.8" r="1.7"/><path d="M67.9,156.8 L66.7,153.8" stroke="#34b83a" stroke-width="0.9"/><circle cx="50.3" cy="159.7" r="1.6"/><path d="M49.9,155.4 L50.3,159.7" stroke="#34b83a" stroke-width="0.9"/><circle cx="100.9" cy="148.6" r="1.6"/><path d="M101.0,152.8 L100.9,148.6" stroke="#34b83a" stroke-width="0.9"/><circle cx="56.2" cy="150.2" r="1.2"/><path d="M56.4,155.1 L56.2,150.2" stroke="#34b83a" stroke-width="0.9"/><circle cx="88.4" cy="151.5" r="1.4"/><path d="M88.6,154.4 L88.4,151.5" stroke="#34b83a" stroke-width="0.9"/><circle cx="81.5" cy="159.4" r="1.7"/><path d="M80.6,155.6 L81.5,159.4" stroke="#34b83a" stroke-width="0.9"/><circle cx="106.4" cy="157.6" r="1.4"/><path d="M106.4,153.1 L106.4,157.6" stroke="#34b83a" stroke-width="0.9"/><circle cx="115.8" cy="150.4" r="1.2"/><path d="M115.3,153.4 L115.8,150.4" stroke="#34b83a" stroke-width="0.9"/><circle cx="112.9" cy="149.5" r="1.1"/><path d="M112.7,153.3 L112.9,149.5" stroke="#34b83a" stroke-width="0.9"/><circle cx="74.7" cy="160.5" r="1.6"/><path d="M74.0,156.7 L74.7,160.5" stroke="#34b83a" stroke-width="0.9"/><circle cx="73.5" cy="161.4" r="1.5"/><path d="M72.4,157.0 L73.5,161.4" stroke="#34b83a" stroke-width="0.9"/><circle cx="44.9" cy="151.3" r="1.6"/><path d="M44.6,155.7 L44.9,151.3" stroke="#34b83a" stroke-width="0.9"/><circle cx="50.7" cy="158.8" r="1.0"/><path d="M50.9,155.4 L50.7,158.8" stroke="#34b83a" stroke-width="0.9"/><circle cx="64.2" cy="160.1" r="1.1"/><path d="M64.7,156.2 L64.2,160.1" stroke="#34b83a" stroke-width="0.9"/><circle cx="63.1" cy="150.7" r="2.0"/><path d="M63.2,155.9 L63.1,150.7" stroke="#34b83a" stroke-width="0.9"/><circle cx="42.7" cy="151.2" r="1.6"/><path d="M42.8,155.8 L42.7,151.2" stroke="#34b83a" stroke-width="0.9"/><circle cx="76.1" cy="151.8" r="1.1"/><path d="M75.7,156.5 L76.1,151.8" stroke="#34b83a" stroke-width="0.9"/><circle cx="99.5" cy="156.5" r="1.3"/><path d="M99.4,152.8 L99.5,156.5" stroke="#34b83a" stroke-width="0.9"/></g>
</g>
<polygon points="54.4,147.5 57.6,143.6 59.9,148.3" fill="#f6fff6"/>
<polygon points="62.6,146.8 65.8,142.9 68.1,147.6" fill="#f6fff6"/>
<polygon points="82.0,148.4 85.2,144.5 87.5,149.2" fill="#f6fff6"/>
<polygon points="98.9,146.8 102.1,142.9 104.4,147.6" fill="#f6fff6"/>
<polygon points="36.2,164.0 36.2,169.0 40.5,166.5" fill="#f6fff6"/>
<polygon points="62.6,163.0 62.6,168.0 66.9,165.5" fill="#f6fff6"/>
<polygon points="92.4,160.5 92.4,165.5 96.7,163.0" fill="#f6fff6"/>
<rect x="129.80" y="42.50" width="91.60" height="30.05" fill="#040b05" stroke="none" stroke-width="0" />
<clipPath id="cp5"><rect x="129.8" y="42.5" width="91.60" height="30.05"/></clipPath>
<g clip-path="url(#cp5)">
<path d="M129.9,56.4 L146.5,51.8 L161.8,54.1 L175.6,54.1 L189.4,57.2 L204.7,58.7 L221.6,58.7" fill="none" stroke="#1f7a24" stroke-width="6.5" stroke-linejoin="round" filter="url(#bl2)" opacity="0.75"/>
<g fill="#46d84c" filter="url(#bl)"><circle cx="129.7" cy="57.0" r="1.6"/><circle cx="131.4" cy="55.6" r="1.7"/><circle cx="132.3" cy="55.6" r="1.4"/><circle cx="133.4" cy="55.7" r="1.5"/><circle cx="134.9" cy="54.6" r="1.8"/><circle cx="136.2" cy="54.9" r="2.0"/><circle cx="137.5" cy="55.0" r="2.2"/><circle cx="138.6" cy="54.5" r="2.3"/><circle cx="140.3" cy="52.9" r="2.2"/><circle cx="141.5" cy="52.3" r="1.2"/><circle cx="142.9" cy="53.1" r="1.5"/><circle cx="143.7" cy="51.9" r="1.5"/><circle cx="145.4" cy="51.9" r="1.4"/><circle cx="146.7" cy="52.3" r="1.4"/><circle cx="148.1" cy="52.2" r="2.1"/><circle cx="149.4" cy="52.9" r="2.1"/><circle cx="150.9" cy="51.9" r="2.0"/><circle cx="152.1" cy="53.1" r="1.7"/><circle cx="153.7" cy="52.9" r="1.5"/><circle cx="154.7" cy="52.4" r="1.8"/><circle cx="156.0" cy="53.2" r="1.4"/><circle cx="157.6" cy="53.5" r="1.8"/><circle cx="159.2" cy="52.8" r="2.2"/><circle cx="160.4" cy="54.0" r="2.0"/><circle cx="162.0" cy="53.9" r="1.7"/><circle cx="163.5" cy="53.3" r="2.0"/><circle cx="164.6" cy="53.3" r="1.9"/><circle cx="166.0" cy="54.9" r="1.6"/><circle cx="167.6" cy="54.1" r="1.8"/><circle cx="168.9" cy="53.3" r="2.1"/><circle cx="170.2" cy="53.8" r="2.2"/><circle cx="171.4" cy="54.1" r="1.8"/><circle cx="173.0" cy="53.6" r="1.7"/><circle cx="174.2" cy="54.2" r="2.2"/><circle cx="175.5" cy="54.7" r="1.7"/><circle cx="177.0" cy="54.0" r="1.8"/><circle cx="178.6" cy="55.0" r="2.2"/><circle cx="179.6" cy="54.7" r="1.6"/><circle cx="181.2" cy="55.6" r="2.1"/><circle cx="182.2" cy="56.1" r="2.3"/><circle cx="183.9" cy="55.1" r="1.6"/><circle cx="185.0" cy="55.7" r="2.3"/><circle cx="186.7" cy="56.9" r="2.1"/><circle cx="188.3" cy="57.1" r="1.9"/><circle cx="189.5" cy="57.6" r="1.9"/><circle cx="190.9" cy="56.8" r="2.0"/><circle cx="192.2" cy="57.9" r="1.3"/><circle cx="193.4" cy="56.8" r="2.1"/><circle cx="195.2" cy="58.0" r="1.6"/><circle cx="196.5" cy="58.4" r="1.9"/><circle cx="197.6" cy="57.7" r="1.7"/><circle cx="199.0" cy="58.0" r="2.0"/><circle cx="200.8" cy="57.5" r="1.9"/><circle cx="201.6" cy="57.7" r="2.2"/><circle cx="203.4" cy="59.3" r="1.7"/><circle cx="204.4" cy="58.5" r="1.9"/><circle cx="206.3" cy="59.6" r="1.8"/><circle cx="207.2" cy="58.0" r="2.0"/><circle cx="208.4" cy="58.1" r="1.2"/><circle cx="209.6" cy="59.0" r="1.3"/><circle cx="211.5" cy="58.0" r="2.2"/><circle cx="212.3" cy="57.8" r="2.1"/><circle cx="213.6" cy="59.1" r="1.4"/><circle cx="214.8" cy="59.2" r="2.1"/><circle cx="216.6" cy="59.1" r="1.3"/><circle cx="217.8" cy="59.1" r="1.8"/><circle cx="219.3" cy="58.3" r="2.4"/><circle cx="220.4" cy="57.8" r="1.2"/></g>
<g fill="#40d046" filter="url(#bl)"><circle cx="188.3" cy="53.5" r="1.3"/><path d="M188.0,56.9 L188.3,53.5" stroke="#34b83a" stroke-width="0.9"/><circle cx="218.3" cy="62.7" r="1.3"/><path d="M217.2,58.7 L218.3,62.7" stroke="#34b83a" stroke-width="0.9"/><circle cx="195.7" cy="62.0" r="1.1"/><path d="M194.9,57.7 L195.7,62.0" stroke="#34b83a" stroke-width="0.9"/><circle cx="164.0" cy="50.0" r="1.4"/><path d="M164.2,54.1 L164.0,50.0" stroke="#34b83a" stroke-width="0.9"/><circle cx="199.8" cy="62.8" r="1.6"/><path d="M200.3,58.3 L199.8,62.8" stroke="#34b83a" stroke-width="0.9"/><circle cx="134.8" cy="59.5" r="1.7"/><path d="M135.9,54.7 L134.8,59.5" stroke="#34b83a" stroke-width="0.9"/><circle cx="144.3" cy="56.2" r="2.0"/><path d="M144.9,52.2 L144.3,56.2" stroke="#34b83a" stroke-width="0.9"/><circle cx="167.0" cy="58.1" r="1.9"/><path d="M166.2,54.1 L167.0,58.1" stroke="#34b83a" stroke-width="0.9"/><circle cx="156.4" cy="50.2" r="1.3"/><path d="M157.2,53.4 L156.4,50.2" stroke="#34b83a" stroke-width="0.9"/><circle cx="214.4" cy="55.6" r="1.1"/><path d="M213.5,58.7 L214.4,55.6" stroke="#34b83a" stroke-width="0.9"/><circle cx="221.5" cy="55.7" r="1.9"/><path d="M220.8,58.7 L221.5,55.7" stroke="#34b83a" stroke-width="0.9"/><circle cx="191.1" cy="60.6" r="1.1"/><path d="M191.0,57.4 L191.1,60.6" stroke="#34b83a" stroke-width="0.9"/><circle cx="202.5" cy="53.8" r="1.7"/><path d="M201.3,58.4 L202.5,53.8" stroke="#34b83a" stroke-width="0.9"/><circle cx="158.9" cy="49.5" r="1.5"/><path d="M159.6,53.8 L158.9,49.5" stroke="#34b83a" stroke-width="0.9"/><circle cx="153.6" cy="48.4" r="1.5"/><path d="M154.6,53.0 L153.6,48.4" stroke="#34b83a" stroke-width="0.9"/><circle cx="203.1" cy="55.6" r="1.6"/><path d="M202.2,58.5 L203.1,55.6" stroke="#34b83a" stroke-width="0.9"/></g>
</g>
<polygon points="156.7,46.7 159.9,42.8 162.2,47.5" fill="#f6fff6"/>
<polygon points="172.9,60.0 172.9,65.0 177.2,62.5" fill="#f6fff6"/>
<polygon points="193.6,64.6 193.6,69.6 197.9,67.1" fill="#f6fff6"/>
<rect x="129.80" y="76.60" width="91.60" height="29.60" fill="#040b05" stroke="none" stroke-width="0" />
<clipPath id="cp6"><rect x="129.8" y="76.6" width="91.60" height="29.60"/></clipPath>
<g clip-path="url(#cp6)">
<path d="M129.9,90.9 L143.4,92.4 L158.7,90.1 L174.0,87.0 L189.4,87.8 L201.6,90.1 L212.4,93.9 L221.6,97.8" fill="none" stroke="#1f7a24" stroke-width="6.5" stroke-linejoin="round" filter="url(#bl2)" opacity="0.75"/>
<g fill="#46d84c" filter="url(#bl)"><circle cx="130.1" cy="90.9" r="1.8"/><circle cx="131.3" cy="90.5" r="1.4"/><circle cx="132.4" cy="91.6" r="1.6"/><circle cx="134.0" cy="91.2" r="1.8"/><circle cx="135.1" cy="90.7" r="2.4"/><circle cx="136.6" cy="90.9" r="2.0"/><circle cx="138.2" cy="91.2" r="1.9"/><circle cx="139.3" cy="92.0" r="1.2"/><circle cx="140.4" cy="93.0" r="2.2"/><circle cx="142.0" cy="92.4" r="1.5"/><circle cx="143.6" cy="92.3" r="2.3"/><circle cx="145.0" cy="92.8" r="2.4"/><circle cx="146.0" cy="91.1" r="1.4"/><circle cx="147.4" cy="91.0" r="1.3"/><circle cx="149.0" cy="92.2" r="1.7"/><circle cx="150.6" cy="92.1" r="1.3"/><circle cx="151.8" cy="91.0" r="1.3"/><circle cx="153.4" cy="90.5" r="1.9"/><circle cx="154.6" cy="91.5" r="2.0"/><circle cx="155.9" cy="90.4" r="1.4"/><circle cx="157.6" cy="91.2" r="1.5"/><circle cx="158.4" cy="89.7" r="1.6"/><circle cx="160.2" cy="90.6" r="2.2"/><circle cx="161.0" cy="90.1" r="2.1"/><circle cx="162.6" cy="90.2" r="1.3"/><circle cx="163.6" cy="89.5" r="2.3"/><circle cx="165.2" cy="88.4" r="1.9"/><circle cx="166.5" cy="87.8" r="1.6"/><circle cx="167.5" cy="87.6" r="1.8"/><circle cx="168.7" cy="87.6" r="1.4"/><circle cx="170.3" cy="86.9" r="2.1"/><circle cx="171.3" cy="86.7" r="2.3"/><circle cx="172.6" cy="88.0" r="2.2"/><circle cx="174.2" cy="86.4" r="1.7"/><circle cx="175.2" cy="87.8" r="2.2"/><circle cx="176.9" cy="87.1" r="1.6"/><circle cx="178.4" cy="87.2" r="2.0"/><circle cx="179.4" cy="86.8" r="1.3"/><circle cx="181.1" cy="87.5" r="1.4"/><circle cx="182.6" cy="87.0" r="1.7"/><circle cx="183.6" cy="87.1" r="2.2"/><circle cx="185.1" cy="87.0" r="1.8"/><circle cx="186.5" cy="88.4" r="1.3"/><circle cx="188.3" cy="86.9" r="2.3"/><circle cx="189.5" cy="87.3" r="1.8"/><circle cx="190.6" cy="87.6" r="1.4"/><circle cx="192.0" cy="89.2" r="2.4"/><circle cx="193.7" cy="87.8" r="1.5"/><circle cx="195.1" cy="88.0" r="2.1"/><circle cx="196.1" cy="89.9" r="1.2"/><circle cx="197.7" cy="89.0" r="1.4"/><circle cx="198.6" cy="90.2" r="1.8"/><circle cx="200.1" cy="89.7" r="2.3"/><circle cx="201.4" cy="90.2" r="1.4"/><circle cx="202.8" cy="91.1" r="2.1"/><circle cx="204.1" cy="90.3" r="1.3"/><circle cx="205.7" cy="91.5" r="1.5"/><circle cx="206.8" cy="92.2" r="2.0"/><circle cx="208.5" cy="92.6" r="1.4"/><circle cx="209.4" cy="93.4" r="1.7"/><circle cx="211.2" cy="92.6" r="2.2"/><circle cx="212.3" cy="94.5" r="2.2"/><circle cx="213.7" cy="93.6" r="2.3"/><circle cx="215.0" cy="95.7" r="1.5"/><circle cx="216.2" cy="96.2" r="1.6"/><circle cx="217.5" cy="95.9" r="1.9"/><circle cx="218.7" cy="96.7" r="1.7"/><circle cx="220.3" cy="96.6" r="2.1"/></g>
<g fill="#40d046" filter="url(#bl)"><circle cx="209.5" cy="97.3" r="1.9"/><path d="M209.3,92.8 L209.5,97.3" stroke="#34b83a" stroke-width="0.9"/><circle cx="215.0" cy="99.8" r="2.0"/><path d="M215.0,95.0 L215.0,99.8" stroke="#34b83a" stroke-width="0.9"/><circle cx="182.4" cy="85.2" r="2.0"/><path d="M183.1,87.5 L182.4,85.2" stroke="#34b83a" stroke-width="0.9"/><circle cx="148.7" cy="88.6" r="1.6"/><path d="M147.6,91.8 L148.7,88.6" stroke="#34b83a" stroke-width="0.9"/><circle cx="132.1" cy="88.1" r="1.8"/><path d="M131.7,91.1 L132.1,88.1" stroke="#34b83a" stroke-width="0.9"/><circle cx="178.6" cy="82.9" r="1.1"/><path d="M177.8,87.2 L178.6,82.9" stroke="#34b83a" stroke-width="0.9"/><circle cx="202.0" cy="87.1" r="1.5"/><path d="M201.8,90.2 L202.0,87.1" stroke="#34b83a" stroke-width="0.9"/><circle cx="204.2" cy="88.8" r="1.4"/><path d="M205.1,91.3 L204.2,88.8" stroke="#34b83a" stroke-width="0.9"/><circle cx="191.7" cy="85.5" r="1.6"/><path d="M191.1,88.1 L191.7,85.5" stroke="#34b83a" stroke-width="0.9"/><circle cx="145.5" cy="87.0" r="1.4"/><path d="M145.7,92.1 L145.5,87.0" stroke="#34b83a" stroke-width="0.9"/><circle cx="211.7" cy="90.0" r="1.9"/><path d="M211.0,93.4 L211.7,90.0" stroke="#34b83a" stroke-width="0.9"/><circle cx="165.1" cy="84.2" r="1.7"/><path d="M164.3,89.0 L165.1,84.2" stroke="#34b83a" stroke-width="0.9"/><circle cx="187.5" cy="92.4" r="1.8"/><path d="M188.6,87.8 L187.5,92.4" stroke="#34b83a" stroke-width="0.9"/><circle cx="183.8" cy="90.4" r="1.4"/><path d="M183.5,87.5 L183.8,90.4" stroke="#34b83a" stroke-width="0.9"/><circle cx="167.1" cy="86.0" r="1.4"/><path d="M167.1,88.4 L167.1,86.0" stroke="#34b83a" stroke-width="0.9"/><circle cx="133.1" cy="87.7" r="1.4"/><path d="M131.9,91.1 L133.1,87.7" stroke="#34b83a" stroke-width="0.9"/></g>
</g>
<polygon points="139.8,86.5 143.0,82.6 145.3,87.3" fill="#f6fff6"/>
<polygon points="169.0,81.9 172.2,78.0 174.5,82.7" fill="#f6fff6"/>
<polygon points="141.5,98.0 141.5,103.0 145.8,100.5" fill="#f6fff6"/>
<polygon points="159.4,97.1 159.4,102.1 163.7,99.6" fill="#f6fff6"/>
<rect x="129.80" y="110.30" width="91.60" height="28.00" fill="#040b05" stroke="none" stroke-width="0" />
<clipPath id="cp7"><rect x="129.8" y="110.3" width="91.60" height="28.00"/></clipPath>
<g clip-path="url(#cp7)">
<path d="M129.9,125.2 L143.4,121.3 L158.7,121.3 L171.0,125.2 L186.3,127.5 L197.0,122.1 L210.8,121.3 L221.6,122.1" fill="none" stroke="#1f7a24" stroke-width="6.5" stroke-linejoin="round" filter="url(#bl2)" opacity="0.75"/>
<g fill="#46d84c" filter="url(#bl)"><circle cx="129.9" cy="124.4" r="2.4"/><circle cx="131.5" cy="124.0" r="2.2"/><circle cx="132.7" cy="125.2" r="1.9"/><circle cx="134.0" cy="124.6" r="1.2"/><circle cx="135.1" cy="123.0" r="1.2"/><circle cx="136.5" cy="122.4" r="1.3"/><circle cx="137.9" cy="122.3" r="1.3"/><circle cx="139.6" cy="123.2" r="2.3"/><circle cx="140.5" cy="122.2" r="2.3"/><circle cx="142.0" cy="121.7" r="2.3"/><circle cx="143.6" cy="121.4" r="1.5"/><circle cx="144.9" cy="121.7" r="1.5"/><circle cx="146.2" cy="121.7" r="1.5"/><circle cx="147.5" cy="121.4" r="1.6"/><circle cx="149.2" cy="120.9" r="1.8"/><circle cx="150.5" cy="120.5" r="1.6"/><circle cx="151.6" cy="121.4" r="2.4"/><circle cx="153.1" cy="122.1" r="1.4"/><circle cx="154.8" cy="121.0" r="1.6"/><circle cx="155.8" cy="122.0" r="1.5"/><circle cx="157.0" cy="120.4" r="1.9"/><circle cx="158.8" cy="121.0" r="2.0"/><circle cx="160.1" cy="122.3" r="1.6"/><circle cx="161.6" cy="122.2" r="2.4"/><circle cx="162.9" cy="123.4" r="1.7"/><circle cx="164.3" cy="122.4" r="1.4"/><circle cx="165.6" cy="123.1" r="2.2"/><circle cx="166.7" cy="124.5" r="2.3"/><circle cx="168.6" cy="123.9" r="2.0"/><circle cx="169.7" cy="125.1" r="1.7"/><circle cx="170.8" cy="125.0" r="1.9"/><circle cx="172.2" cy="125.2" r="2.4"/><circle cx="173.6" cy="126.2" r="1.5"/><circle cx="175.2" cy="125.1" r="2.2"/><circle cx="176.7" cy="125.7" r="1.6"/><circle cx="177.9" cy="126.3" r="1.9"/><circle cx="179.4" cy="125.6" r="2.1"/><circle cx="181.0" cy="126.4" r="1.6"/><circle cx="182.1" cy="127.4" r="1.7"/><circle cx="183.4" cy="126.6" r="2.2"/><circle cx="184.8" cy="128.1" r="1.9"/><circle cx="186.1" cy="127.2" r="2.4"/><circle cx="187.7" cy="127.7" r="1.2"/><circle cx="188.5" cy="127.0" r="1.6"/><circle cx="189.9" cy="125.4" r="1.9"/><circle cx="191.0" cy="125.7" r="2.1"/><circle cx="192.2" cy="124.4" r="1.2"/><circle cx="193.5" cy="123.8" r="1.2"/><circle cx="194.4" cy="122.8" r="1.7"/><circle cx="195.8" cy="123.0" r="2.3"/><circle cx="196.8" cy="121.5" r="1.7"/><circle cx="198.3" cy="122.5" r="2.3"/><circle cx="199.8" cy="122.3" r="2.1"/><circle cx="200.9" cy="121.6" r="1.6"/><circle cx="202.3" cy="121.4" r="1.4"/><circle cx="204.0" cy="121.3" r="1.6"/><circle cx="205.5" cy="121.6" r="2.4"/><circle cx="206.7" cy="121.6" r="2.2"/><circle cx="207.9" cy="122.2" r="1.7"/><circle cx="209.2" cy="121.5" r="1.3"/><circle cx="210.8" cy="121.5" r="2.1"/><circle cx="212.3" cy="120.5" r="1.2"/><circle cx="213.6" cy="121.6" r="2.3"/><circle cx="214.8" cy="120.9" r="1.2"/><circle cx="215.9" cy="121.1" r="2.1"/><circle cx="217.6" cy="122.5" r="2.3"/><circle cx="218.9" cy="121.3" r="1.4"/><circle cx="220.3" cy="121.4" r="1.8"/></g>
<g fill="#40d046" filter="url(#bl)"><circle cx="179.7" cy="124.0" r="1.2"/><path d="M179.6,126.5 L179.7,124.0" stroke="#34b83a" stroke-width="0.9"/><circle cx="206.3" cy="126.1" r="1.1"/><path d="M207.4,121.5 L206.3,126.1" stroke="#34b83a" stroke-width="0.9"/><circle cx="201.8" cy="124.4" r="1.2"/><path d="M202.4,121.8 L201.8,124.4" stroke="#34b83a" stroke-width="0.9"/><circle cx="132.0" cy="119.5" r="1.9"/><path d="M133.0,124.3 L132.0,119.5" stroke="#34b83a" stroke-width="0.9"/><circle cx="148.4" cy="123.6" r="1.2"/><path d="M148.6,121.3 L148.4,123.6" stroke="#34b83a" stroke-width="0.9"/><circle cx="201.1" cy="118.3" r="1.6"/><path d="M201.7,121.8 L201.1,118.3" stroke="#34b83a" stroke-width="0.9"/><circle cx="134.8" cy="120.9" r="1.9"/><path d="M134.1,124.0 L134.8,120.9" stroke="#34b83a" stroke-width="0.9"/><circle cx="161.3" cy="126.9" r="1.5"/><path d="M160.2,121.8 L161.3,126.9" stroke="#34b83a" stroke-width="0.9"/><circle cx="153.9" cy="125.5" r="1.6"/><path d="M154.1,121.3 L153.9,125.5" stroke="#34b83a" stroke-width="0.9"/><circle cx="167.4" cy="126.6" r="1.9"/><path d="M168.4,124.4 L167.4,126.6" stroke="#34b83a" stroke-width="0.9"/><circle cx="145.8" cy="124.1" r="2.0"/><path d="M146.3,121.3 L145.8,124.1" stroke="#34b83a" stroke-width="0.9"/><circle cx="184.8" cy="124.1" r="1.9"/><path d="M185.2,127.3 L184.8,124.1" stroke="#34b83a" stroke-width="0.9"/><circle cx="192.4" cy="121.0" r="1.9"/><path d="M192.2,124.5 L192.4,121.0" stroke="#34b83a" stroke-width="0.9"/><circle cx="166.3" cy="127.1" r="1.2"/><path d="M167.4,124.1 L166.3,127.1" stroke="#34b83a" stroke-width="0.9"/><circle cx="192.3" cy="128.6" r="1.2"/><path d="M193.2,124.0 L192.3,128.6" stroke="#34b83a" stroke-width="0.9"/><circle cx="149.8" cy="117.4" r="1.5"/><path d="M149.1,121.3 L149.8,117.4" stroke="#34b83a" stroke-width="0.9"/></g>
</g>
<polygon points="137.5,115.3 140.7,111.4 143.0,116.1" fill="#f6fff6"/>
<polygon points="155.6,115.3 158.8,111.4 161.1,116.1" fill="#f6fff6"/>
<polygon points="156.8,128.0 156.8,133.0 161.1,130.5" fill="#f6fff6"/>
<polygon points="183.6,131.1 183.6,136.1 187.9,133.6" fill="#f6fff6"/>
<rect x="129.80" y="142.10" width="91.60" height="27.60" fill="#040b05" stroke="none" stroke-width="0" />
<clipPath id="cp8"><rect x="129.8" y="142.1" width="91.60" height="27.60"/></clipPath>
<g clip-path="url(#cp8)">
<path d="M129.9,152.8 L143.4,152.0 L158.7,155.0 L174.0,155.8 L189.4,155.8 L201.6,154.3 L212.4,155.8 L221.6,154.3" fill="none" stroke="#1f7a24" stroke-width="6.5" stroke-linejoin="round" filter="url(#bl2)" opacity="0.75"/>
<g fill="#46d84c" filter="url(#bl)"><circle cx="129.7" cy="152.6" r="1.5"/><circle cx="131.2" cy="153.0" r="1.9"/><circle cx="132.5" cy="152.6" r="1.4"/><circle cx="134.2" cy="152.9" r="2.3"/><circle cx="135.6" cy="152.7" r="1.7"/><circle cx="136.9" cy="152.5" r="1.7"/><circle cx="138.0" cy="151.6" r="2.1"/><circle cx="139.5" cy="151.5" r="2.2"/><circle cx="140.8" cy="152.6" r="1.2"/><circle cx="142.2" cy="151.4" r="1.2"/><circle cx="143.5" cy="152.4" r="2.1"/><circle cx="144.6" cy="151.7" r="2.3"/><circle cx="145.9" cy="153.3" r="2.2"/><circle cx="147.7" cy="152.3" r="2.1"/><circle cx="148.7" cy="152.7" r="2.2"/><circle cx="150.3" cy="153.1" r="2.2"/><circle cx="151.7" cy="153.9" r="2.0"/><circle cx="153.4" cy="154.7" r="1.4"/><circle cx="154.4" cy="154.7" r="2.0"/><circle cx="156.2" cy="153.6" r="2.0"/><circle cx="157.3" cy="155.6" r="1.7"/><circle cx="158.9" cy="154.3" r="1.5"/><circle cx="160.0" cy="155.3" r="1.5"/><circle cx="161.6" cy="155.0" r="1.9"/><circle cx="162.8" cy="155.7" r="1.4"/><circle cx="164.4" cy="155.4" r="2.0"/><circle cx="165.9" cy="155.5" r="1.5"/><circle cx="167.0" cy="155.5" r="2.3"/><circle cx="168.5" cy="155.6" r="2.3"/><circle cx="169.6" cy="156.1" r="2.0"/><circle cx="171.5" cy="156.3" r="1.9"/><circle cx="172.7" cy="156.6" r="2.0"/><circle cx="173.7" cy="155.5" r="2.1"/><circle cx="175.3" cy="156.5" r="1.7"/><circle cx="176.9" cy="156.7" r="1.9"/><circle cx="178.0" cy="155.8" r="1.6"/><circle cx="179.9" cy="155.7" r="1.6"/><circle cx="181.0" cy="156.1" r="2.2"/><circle cx="182.5" cy="155.8" r="2.0"/><circle cx="183.6" cy="156.1" r="2.2"/><circle cx="185.4" cy="155.8" r="1.4"/><circle cx="186.9" cy="156.4" r="1.9"/><circle cx="187.8" cy="155.2" r="2.1"/><circle cx="189.2" cy="155.4" r="2.4"/><circle cx="190.6" cy="155.4" r="1.3"/><circle cx="192.2" cy="154.8" r="2.0"/><circle cx="193.5" cy="155.3" r="2.0"/><circle cx="194.5" cy="155.5" r="1.4"/><circle cx="196.3" cy="155.3" r="1.4"/><circle cx="197.7" cy="155.0" r="1.5"/><circle cx="199.0" cy="153.9" r="1.7"/><circle cx="200.5" cy="154.8" r="1.4"/><circle cx="201.9" cy="154.9" r="1.7"/><circle cx="202.8" cy="154.8" r="1.2"/><circle cx="204.3" cy="153.9" r="2.3"/><circle cx="205.5" cy="154.2" r="1.6"/><circle cx="207.3" cy="154.4" r="1.7"/><circle cx="208.4" cy="154.9" r="1.9"/><circle cx="209.4" cy="155.4" r="2.4"/><circle cx="211.0" cy="156.1" r="1.6"/><circle cx="212.5" cy="155.4" r="2.0"/><circle cx="214.0" cy="155.6" r="2.1"/><circle cx="214.9" cy="155.1" r="1.3"/><circle cx="216.2" cy="155.4" r="2.1"/><circle cx="217.8" cy="155.2" r="1.3"/><circle cx="219.1" cy="153.9" r="1.7"/><circle cx="220.1" cy="154.3" r="2.4"/></g>
<g fill="#40d046" filter="url(#bl)"><circle cx="183.9" cy="153.3" r="1.7"/><path d="M184.4,155.8 L183.9,153.3" stroke="#34b83a" stroke-width="0.9"/><circle cx="192.8" cy="158.1" r="1.8"/><path d="M193.2,155.3 L192.8,158.1" stroke="#34b83a" stroke-width="0.9"/><circle cx="166.5" cy="160.2" r="1.3"/><path d="M167.5,155.5 L166.5,160.2" stroke="#34b83a" stroke-width="0.9"/><circle cx="140.0" cy="157.1" r="1.9"/><path d="M140.0,152.2 L140.0,157.1" stroke="#34b83a" stroke-width="0.9"/><circle cx="181.9" cy="150.6" r="1.6"/><path d="M181.6,155.8 L181.9,150.6" stroke="#34b83a" stroke-width="0.9"/><circle cx="144.4" cy="149.3" r="1.4"/><path d="M143.3,152.0 L144.4,149.3" stroke="#34b83a" stroke-width="0.9"/><circle cx="137.7" cy="147.5" r="1.5"/><path d="M138.4,152.3 L137.7,147.5" stroke="#34b83a" stroke-width="0.9"/><circle cx="168.6" cy="150.8" r="1.9"/><path d="M168.0,155.5 L168.6,150.8" stroke="#34b83a" stroke-width="0.9"/><circle cx="174.1" cy="158.2" r="1.1"/><path d="M173.6,155.8 L174.1,158.2" stroke="#34b83a" stroke-width="0.9"/><circle cx="215.3" cy="151.9" r="1.7"/><path d="M214.5,155.5 L215.3,151.9" stroke="#34b83a" stroke-width="0.9"/><circle cx="216.1" cy="152.0" r="1.0"/><path d="M215.4,155.3 L216.1,152.0" stroke="#34b83a" stroke-width="0.9"/><circle cx="198.2" cy="151.1" r="1.5"/><path d="M198.2,154.7 L198.2,151.1" stroke="#34b83a" stroke-width="0.9"/><circle cx="174.2" cy="150.7" r="2.0"/><path d="M173.9,155.8 L174.2,150.7" stroke="#34b83a" stroke-width="0.9"/><circle cx="209.2" cy="150.9" r="1.3"/><path d="M208.9,155.3 L209.2,150.9" stroke="#34b83a" stroke-width="0.9"/><circle cx="189.0" cy="160.9" r="1.5"/><path d="M188.6,155.8 L189.0,160.9" stroke="#34b83a" stroke-width="0.9"/><circle cx="161.0" cy="158.9" r="1.6"/><path d="M160.1,155.1 L161.0,158.9" stroke="#34b83a" stroke-width="0.9"/></g>
</g>
<polygon points="132.6,146.8 135.8,142.9 138.1,147.6" fill="#f6fff6"/>
<polygon points="157.5,147.2 160.7,143.3 163.0,148.0" fill="#f6fff6"/>
<polygon points="189.6,147.6 192.8,143.7 195.1,148.4" fill="#f6fff6"/>
<polygon points="148.1,159.0 148.1,164.0 152.4,161.5" fill="#f6fff6"/>
<rect x="197.60" y="166.70" width="15.30" height="1.40" fill="#f6fff6" stroke="none" stroke-width="0" />
<text transform="translate(224.18,59.30) scale(1.0928,1)" font-size="15" fill="#1a1a1a">240</text>
<text transform="translate(254.44,59.30) scale(1.1033,1)" font-size="15" fill="#1a1a1a">µm</text>
<text transform="translate(281.78,59.30) scale(1.0406,1)" font-size="15" fill="#1a1a1a">apical</text>
<text transform="translate(225.30,93.10) scale(0.9775,1)" font-size="15" fill="#1a1a1a">120</text>
<text transform="translate(254.44,93.10) scale(1.1033,1)" font-size="15" fill="#1a1a1a">µm</text>
<text transform="translate(281.78,93.10) scale(1.0406,1)" font-size="15" fill="#1a1a1a">apical</text>
<text transform="translate(224.67,126.90) scale(1.0869,1)" font-size="15" fill="#1a1a1a">40</text>
<text transform="translate(245.97,126.90) scale(1.0719,1)" font-size="15" fill="#1a1a1a">µm</text>
<text transform="translate(273.07,126.90) scale(1.0486,1)" font-size="15" fill="#1a1a1a">apical</text>
<text transform="translate(224.63,161.10) scale(1.0559,1)" font-size="15" fill="#1a1a1a">Basal</text>
<line x1="400.60" y1="55.00" x2="400.60" y2="149.50" stroke="#111" stroke-width="1.4" />
<line x1="399.90" y1="148.80" x2="665.30" y2="148.80" stroke="#111" stroke-width="1.4" />
<text x="395.2" y="153.8" font-size="13.8" text-anchor="end" font-weight="normal" fill="#1a1a1a" >0</text>
<text x="395.2" y="135.05" font-size="13.8" text-anchor="end" font-weight="normal" fill="#1a1a1a" >5</text>
<line x1="398.40" y1="130.05" x2="400.60" y2="130.05" stroke="#111" stroke-width="1.1" />
<text x="395.2" y="116.30000000000001" font-size="13.8" text-anchor="end" font-weight="normal" fill="#1a1a1a" >10</text>
<line x1="398.40" y1="111.30" x2="400.60" y2="111.30" stroke="#111" stroke-width="1.1" />
<text x="395.2" y="97.55000000000001" font-size="13.8" text-anchor="end" font-weight="normal" fill="#1a1a1a" >15</text>
<line x1="398.40" y1="92.55" x2="400.60" y2="92.55" stroke="#111" stroke-width="1.1" />
<text x="395.2" y="78.80000000000001" font-size="13.8" text-anchor="end" font-weight="normal" fill="#1a1a1a" >20</text>
<line x1="398.40" y1="73.80" x2="400.60" y2="73.80" stroke="#111" stroke-width="1.1" />
<text x="395.2" y="60.05000000000001" font-size="13.8" text-anchor="end" font-weight="normal" fill="#1a1a1a" >25</text>
<text transform="translate(371.30,162.19) rotate(-90) scale(0.9851,1)" font-size="15.5" fill="#1a1a1a">Spines</text>
<text transform="translate(371.30,112.67) rotate(-90) scale(0.9677,1)" font-size="15.5" fill="#1a1a1a">per</text>
<text transform="translate(371.30,87.46) rotate(-90) scale(0.9756,1)" font-size="15.5" fill="#1a1a1a">20</text>
<text transform="translate(371.30,67.61) rotate(-90) scale(1.2500,1)" font-size="15.5" fill="#1a1a1a">µm</text>
<line x1="413.50" y1="68.00" x2="413.50" y2="70.20" stroke="#111" stroke-width="1.2" />
<line x1="408.69" y1="68.00" x2="418.31" y2="68.00" stroke="#111" stroke-width="1.2" />
<rect x="407.00" y="70.20" width="13.00" height="78.60" fill="#0a0a0a" stroke="none" stroke-width="0" />
<line x1="429.75" y1="93.50" x2="429.75" y2="96.00" stroke="#111" stroke-width="1.2" />
<line x1="425.12" y1="93.50" x2="434.38" y2="93.50" stroke="#111" stroke-width="1.2" />
<rect x="423.90" y="96.50" width="11.70" height="52.30" fill="#e8262a" stroke="#1a0a0a" stroke-width="1.0" />
<line x1="463.85" y1="65.00" x2="463.85" y2="69.20" stroke="#111" stroke-width="1.2" />
<line x1="459.08" y1="65.00" x2="468.62" y2="65.00" stroke="#111" stroke-width="1.2" />
<rect x="457.40" y="69.20" width="12.90" height="79.60" fill="#0a0a0a" stroke="none" stroke-width="0" />
<line x1="479.90" y1="111.20" x2="479.90" y2="114.00" stroke="#111" stroke-width="1.2" />
<line x1="475.16" y1="111.20" x2="484.64" y2="111.20" stroke="#111" stroke-width="1.2" />
<rect x="473.90" y="114.50" width="12.00" height="34.30" fill="#e8262a" stroke="#1a0a0a" stroke-width="1.0" />
<line x1="517.05" y1="62.60" x2="517.05" y2="67.50" stroke="#111" stroke-width="1.2" />
<line x1="512.05" y1="62.60" x2="522.04" y2="62.60" stroke="#111" stroke-width="1.2" />
<rect x="510.30" y="67.50" width="13.50" height="81.30" fill="#0a0a0a" stroke="none" stroke-width="0" />
<line x1="533.50" y1="94.50" x2="533.50" y2="101.00" stroke="#111" stroke-width="1.2" />
<line x1="528.69" y1="94.50" x2="538.31" y2="94.50" stroke="#111" stroke-width="1.2" />
<rect x="527.40" y="101.50" width="12.20" height="47.30" fill="#e8262a" stroke="#1a0a0a" stroke-width="1.0" />
<line x1="569.10" y1="65.30" x2="569.10" y2="69.70" stroke="#111" stroke-width="1.2" />
<line x1="564.29" y1="65.30" x2="573.91" y2="65.30" stroke="#111" stroke-width="1.2" />
<rect x="562.60" y="69.70" width="13.00" height="79.10" fill="#0a0a0a" stroke="none" stroke-width="0" />
<line x1="585.05" y1="81.00" x2="585.05" y2="86.40" stroke="#111" stroke-width="1.2" />
<line x1="580.28" y1="81.00" x2="589.82" y2="81.00" stroke="#111" stroke-width="1.2" />
<rect x="579.00" y="86.90" width="12.10" height="61.90" fill="#e8262a" stroke="#1a0a0a" stroke-width="1.0" />
<line x1="623.35" y1="64.30" x2="623.35" y2="69.70" stroke="#111" stroke-width="1.2" />
<line x1="618.43" y1="64.30" x2="628.27" y2="64.30" stroke="#111" stroke-width="1.2" />
<rect x="616.70" y="69.70" width="13.30" height="79.10" fill="#0a0a0a" stroke="none" stroke-width="0" />
<line x1="639.60" y1="84.00" x2="639.60" y2="88.00" stroke="#111" stroke-width="1.2" />
<line x1="635.01" y1="84.00" x2="644.19" y2="84.00" stroke="#111" stroke-width="1.2" />
<rect x="633.80" y="88.50" width="11.60" height="60.30" fill="#e8262a" stroke="#1a0a0a" stroke-width="1.0" />
<text x="429.35" y="86.5" font-size="13" text-anchor="middle" font-weight="bold" fill="#1a1a1a" >*</text>
<text x="479.6" y="106.9" font-size="13" text-anchor="middle" font-weight="bold" fill="#1a1a1a" >*</text>
<text x="533.5" y="86.9" font-size="13" text-anchor="middle" font-weight="bold" fill="#1a1a1a" >*</text>
<text x="584.1" y="75.1" font-size="13" text-anchor="middle" font-weight="bold" fill="#1a1a1a" >*</text>
<text x="638.7" y="76.93" font-size="10.5" text-anchor="middle" font-weight="bold" fill="#1a1a1a" >*</text>
<text transform="translate(405.60,165.80) scale(1.0107,1)" font-size="15" fill="#1a1a1a">Total</text>
<text transform="translate(445.02,165.80) scale(1.0422,1)" font-size="15" fill="#1a1a1a">240</text>
<text transform="translate(474.82,165.80) scale(1.1242,1)" font-size="15" fill="#1a1a1a">µm</text>
<text transform="translate(453.07,184.40) scale(1.0486,1)" font-size="15" fill="#1a1a1a">apical</text>
<text transform="translate(501.24,165.80) scale(0.9389,1)" font-size="15" fill="#1a1a1a">120</text>
<text transform="translate(529.30,165.80) scale(1.1451,1)" font-size="15" fill="#1a1a1a">µm</text>
<text transform="translate(506.07,184.40) scale(1.0512,1)" font-size="15" fill="#1a1a1a">apical</text>
<text transform="translate(560.18,165.80) scale(1.0679,1)" font-size="15" fill="#1a1a1a">40</text>
<text transform="translate(580.86,165.80) scale(1.0876,1)" font-size="15" fill="#1a1a1a">µm</text>
<text transform="translate(563.17,184.40) scale(1.0486,1)" font-size="15" fill="#1a1a1a">apical</text>
<text transform="translate(612.44,165.80) scale(1.0474,1)" font-size="15" fill="#1a1a1a">Basal</text>
<rect x="595.90" y="19.50" width="9.10" height="9.20" fill="#0a0a0a" stroke="none" stroke-width="0" />
<rect x="596.40" y="33.10" width="8.10" height="7.80" fill="#e8262a" stroke="#111" stroke-width="1" />
<text transform="translate(613.84,26.50) scale(0.9911,1)" font-size="12.2" fill="#1a1a1a">WT</text>
<text transform="translate(612.85,39.90) scale(1.0724,1)" font-size="12.2" fill="#1a1a1a">DPP6-KO</text>
<path d="M79.00,258.27 L79.42,265.10 L79.84,258.13 L80.26,264.72 L80.68,257.67 L81.10,265.62 L81.52,257.46 L81.94,264.65 L82.36,258.42 L82.78,264.66 L83.20,258.16 L83.62,265.20 L84.04,258.38 L84.46,264.21 L84.88,257.34 L85.30,266.36 L85.72,258.39 L86.14,264.42 L86.56,257.85 L86.98,264.43 L87.40,258.17 L87.82,264.68 L88.24,258.40 L88.66,265.08 L89.08,257.68 L89.50,264.38 L89.92,257.43 L90.34,264.31 L90.76,257.59 L91.18,264.95 L91.60,257.93 L92.02,265.08 L92.44,258.07 L92.86,264.81 L93.28,257.45 L93.70,264.73 L94.12,258.38 L94.54,264.44 L94.96,257.94 L95.38,264.37 L95.80,257.61 L96.22,264.91 L96.64,257.91 L97.06,264.73 L97.48,257.82 L97.90,264.60 L98.32,258.39 L98.74,264.23 L99.16,257.29 L99.58,264.82 L100.00,258.22 L100.42,264.72 L100.84,257.53 L101.26,264.76 L101.68,258.15 L102.10,264.73 L102.52,257.75 L102.94,264.68 L103.36,257.79 L103.78,268.06 L104.20,257.47 L104.62,265.14 L105.04,257.49 L105.46,264.74 L105.88,257.93 L106.30,264.24 L106.72,257.76 L107.14,264.40 L107.56,257.86 L107.98,264.57 L108.40,257.80 L108.82,264.85 L109.24,257.89 L109.66,264.21 L110.08,258.22 L110.50,264.81 L110.92,257.50 L111.34,265.04 L111.76,258.13 L112.18,265.09 L112.60,258.32 L113.02,266.96 L113.44,258.13 L113.86,264.30 L114.28,258.02 L114.70,266.34 L115.12,258.23 L115.54,264.47 L115.96,257.90 L116.38,264.53 L116.80,258.39 L117.22,264.60 L117.64,258.20 L118.06,264.30 L118.48,257.83 L118.90,264.41 L119.32,257.48 L119.74,265.14 L120.16,257.59 L120.58,264.35 L121.00,257.64 L121.42,264.77 L121.84,257.30 L122.26,265.04 L122.68,258.16 L123.10,264.88 L123.52,257.76 L123.94,264.53 L124.36,258.35 L124.78,264.50 L125.20,257.41 L125.62,264.51 L126.04,258.06 L126.46,265.19 L126.88,257.94 L127.30,267.59 L127.72,258.38 L128.14,265.06 L128.56,257.76 L128.98,264.37 L129.40,257.30 L129.82,264.94 L130.24,257.98 L130.66,267.08 L131.08,257.92 L131.50,266.89 L131.92,258.08 L132.34,264.72 L132.76,257.42 L133.18,266.25 L133.60,258.04 L134.02,265.25 L134.44,258.03 L134.86,264.41 L135.28,257.45 L135.70,265.19 L136.12,257.40 L136.54,264.92 L136.96,257.28 L137.38,264.43 L137.80,258.32 L138.22,264.36 L138.64,258.17 L139.06,265.00 L139.48,257.45 L139.90,264.58 L140.32,258.08 L140.74,265.12 L141.16,257.32 L141.58,267.29 L142.00,258.30 L142.42,267.32 L142.84,257.51 L143.26,265.07 L143.68,257.71 L144.10,265.02 L144.52,257.76 L144.94,265.72 L145.36,257.39 L145.78,264.79 L146.20,257.89 L146.62,264.48 L147.04,257.47 L147.46,264.19 L147.88,258.31 L148.30,264.30 L148.72,258.37 L149.14,264.44 L149.56,257.93 L149.98,265.53 L150.40,257.56 L150.82,264.29 L151.24,257.98 L151.66,265.23 L152.08,258.08 L152.50,264.45 L152.92,258.30 L153.34,265.42 L153.76,257.29 L154.18,264.50 L154.60,257.90 L155.02,267.76 L155.44,257.30 L155.86,266.37 L156.28,257.71 L156.70,265.24 L157.12,257.63 L157.54,264.89 L157.96,257.80 L158.38,264.51 L158.80,258.33 L159.22,264.48 L159.64,257.90 L160.06,264.88 L160.48,257.34 L160.90,264.60 L161.32,258.04 L161.74,264.52 L162.16,257.39 L162.58,264.51 L163.00,257.79 L163.42,264.81 L163.84,258.14 L164.26,264.20 L164.68,258.34 L165.10,265.50 L165.52,257.69 L165.94,264.49 L166.36,257.85 L166.78,267.12 L167.20,257.50 L167.62,264.26 L168.04,258.22 L168.46,265.02 L168.88,257.47 L169.30,266.57 L169.72,257.36 L170.14,264.50 L170.56,258.26 L170.98,266.61 L171.40,257.38 L171.82,265.05 L172.24,257.45 L172.66,264.99 L173.08,258.21 L173.50,267.29 L173.92,257.65 L174.34,267.84 L174.76,257.49 L175.18,264.77 L175.60,257.44 L176.02,264.67 L176.44,258.03 L176.86,266.90 L177.28,257.94 L177.70,266.36 L178.12,258.26 L178.54,264.32 L178.96,257.47 L179.38,264.61 L179.80,257.71 L180.22,266.52 L180.64,257.84 L181.06,264.88 L181.48,257.63 L181.90,264.97 L182.32,257.85 L182.74,264.70 L183.16,257.95 L183.58,264.79 L184.00,257.36 L184.42,264.48 L184.84,258.36 L185.26,264.26 L185.68,257.41 L186.10,264.35 L186.52,257.40 L186.94,264.52 L187.36,257.44 L187.78,264.58 L188.20,257.57 L188.62,264.82 L189.04,257.39 L189.46,265.22 L189.88,258.22 L190.30,266.66 L190.72,257.55 L191.14,264.24 L191.56,257.59 L191.98,264.56 L192.40,258.23 L192.82,268.41 L193.24,257.49 L193.66,264.86 L194.08,257.37 L194.50,268.04" fill="none" stroke="#0c0c0c" stroke-width="0.9" stroke-linejoin="round"/>
<rect x="79.00" y="258.60" width="115.60" height="5.58" fill="#0c0c0c" stroke="none" stroke-width="0" />
<path d="M80.82,261.30 L81.02,283.21 L82.42,283.21 L82.92,266.40 L83.92,261.30 Z" fill="#0c0c0c"/>
<path d="M88.30,261.30 L88.50,269.20 L89.90,269.20 L90.40,266.40 L91.40,261.30 Z" fill="#0c0c0c"/>
<path d="M94.14,261.30 L94.34,271.53 L95.74,271.53 L96.24,266.40 L97.24,261.30 Z" fill="#0c0c0c"/>
<path d="M97.64,261.30 L97.84,269.20 L99.24,269.20 L99.74,266.40 L100.74,261.30 Z" fill="#0c0c0c"/>
<path d="M104.65,261.30 L104.85,276.21 L106.25,276.21 L106.75,266.40 L107.75,261.30 Z" fill="#0c0c0c"/>
<path d="M106.99,261.30 L107.19,275.04 L108.59,275.04 L109.09,266.40 L110.09,261.30 Z" fill="#0c0c0c"/>
<path d="M116.33,261.30 L116.53,270.37 L117.93,270.37 L118.43,266.40 L119.43,261.30 Z" fill="#0c0c0c"/>
<path d="M122.17,261.30 L122.37,270.37 L123.77,270.37 L124.27,266.40 L125.27,261.30 Z" fill="#0c0c0c"/>
<path d="M128.01,261.30 L128.21,269.20 L129.61,269.20 L130.11,266.40 L131.11,261.30 Z" fill="#0c0c0c"/>
<path d="M136.18,261.30 L136.38,270.37 L137.78,270.37 L138.28,266.40 L139.28,261.30 Z" fill="#0c0c0c"/>
<path d="M143.19,261.30 L143.39,271.53 L144.79,271.53 L145.29,266.40 L146.29,261.30 Z" fill="#0c0c0c"/>
<path d="M150.20,261.30 L150.40,269.20 L151.80,269.20 L152.30,266.40 L153.30,261.30 Z" fill="#0c0c0c"/>
<path d="M158.38,261.30 L158.58,276.21 L159.98,276.21 L160.48,266.40 L161.48,261.30 Z" fill="#0c0c0c"/>
<path d="M161.88,261.30 L162.08,275.04 L163.48,275.04 L163.98,266.40 L164.98,261.30 Z" fill="#0c0c0c"/>
<path d="M166.55,261.30 L166.75,278.54 L168.15,278.54 L168.65,266.40 L169.65,261.30 Z" fill="#0c0c0c"/>
<path d="M173.56,261.30 L173.76,269.20 L175.16,269.20 L175.66,266.40 L176.66,261.30 Z" fill="#0c0c0c"/>
<path d="M180.57,261.30 L180.77,282.05 L182.17,282.05 L182.67,266.40 L183.67,261.30 Z" fill="#0c0c0c"/>
<path d="M186.41,261.30 L186.61,269.20 L188.01,269.20 L188.51,266.40 L189.51,261.30 Z" fill="#0c0c0c"/>
<path d="M191.08,261.30 L191.28,275.04 L192.68,275.04 L193.18,266.40 L194.18,261.30 Z" fill="#0c0c0c"/>
<path d="M79.00,309.74 L79.42,317.86 L79.84,309.87 L80.26,316.97 L80.68,310.44 L81.10,316.84 L81.52,310.15 L81.94,316.38 L82.36,310.35 L82.78,316.96 L83.20,309.75 L83.62,316.78 L84.04,310.49 L84.46,317.69 L84.88,310.43 L85.30,316.61 L85.72,310.21 L86.14,316.79 L86.56,310.75 L86.98,318.07 L87.40,309.69 L87.82,319.20 L88.24,309.91 L88.66,316.97 L89.08,309.95 L89.50,317.03 L89.92,309.71 L90.34,319.21 L90.76,310.00 L91.18,316.69 L91.60,310.25 L92.02,317.16 L92.44,309.88 L92.86,316.58 L93.28,309.80 L93.70,316.69 L94.12,309.78 L94.54,316.96 L94.96,310.54 L95.38,316.55 L95.80,310.60 L96.22,317.15 L96.64,309.79 L97.06,316.54 L97.48,310.01 L97.90,316.73 L98.32,310.07 L98.74,316.82 L99.16,310.55 L99.58,316.74 L100.00,310.10 L100.42,316.30 L100.84,309.99 L101.26,319.14 L101.68,310.72 L102.10,316.89 L102.52,310.53 L102.94,318.66 L103.36,309.85 L103.78,318.73 L104.20,310.32 L104.62,318.18 L105.04,310.59 L105.46,319.32 L105.88,310.75 L106.30,317.98 L106.72,309.90 L107.14,318.26 L107.56,310.36 L107.98,316.26 L108.40,310.62 L108.82,316.26 L109.24,310.11 L109.66,318.15 L110.08,310.75 L110.50,316.68 L110.92,309.97 L111.34,317.14 L111.76,309.84 L112.18,316.94 L112.60,310.53 L113.02,316.89 L113.44,310.67 L113.86,316.68 L114.28,310.64 L114.70,316.82 L115.12,310.22 L115.54,316.37 L115.96,310.50 L116.38,316.84 L116.80,310.76 L117.22,317.40 L117.64,310.74 L118.06,318.15 L118.48,310.23 L118.90,317.22 L119.32,309.70 L119.74,316.46 L120.16,310.51 L120.58,316.82 L121.00,309.91 L121.42,316.94 L121.84,310.32 L122.26,317.33 L122.68,310.34 L123.10,316.33 L123.52,310.52 L123.94,317.28 L124.36,310.54 L124.78,316.75 L125.20,310.44 L125.62,319.19 L126.04,309.73 L126.46,316.96 L126.88,310.22 L127.30,318.15 L127.72,310.21 L128.14,318.51 L128.56,310.38 L128.98,316.75 L129.40,310.12 L129.82,316.52 L130.24,310.38 L130.66,316.24 L131.08,310.67 L131.50,316.53 L131.92,310.05 L132.34,316.24 L132.76,310.33 L133.18,318.39 L133.60,310.70 L134.02,316.51 L134.44,309.76 L134.86,316.30 L135.28,310.57 L135.70,316.80 L136.12,310.28 L136.54,316.99 L136.96,310.65 L137.38,318.54 L137.80,310.08 L138.22,317.20 L138.64,310.75 L139.06,316.89 L139.48,309.99 L139.90,316.73 L140.32,310.28 L140.74,317.03 L141.16,310.21 L141.58,316.71 L142.00,309.90 L142.42,317.17 L142.84,310.46 L143.26,316.46 L143.68,310.50 L144.10,316.66 L144.52,309.78 L144.94,316.82 L145.36,310.68 L145.78,316.58 L146.20,310.62 L146.62,317.32 L147.04,309.81 L147.46,317.23 L147.88,310.64 L148.30,316.52 L148.72,310.05 L149.14,316.91 L149.56,310.21 L149.98,316.33 L150.40,309.75 L150.82,318.52 L151.24,310.00 L151.66,316.48 L152.08,310.28 L152.50,316.94 L152.92,309.70 L153.34,317.02 L153.76,310.62 L154.18,318.36 L154.60,309.82 L155.02,316.40 L155.44,310.26 L155.86,316.63 L156.28,309.76 L156.70,316.94 L157.12,309.73 L157.54,316.56 L157.96,310.06 L158.38,317.00 L158.80,310.54 L159.22,316.85 L159.64,310.05 L160.06,317.22 L160.48,310.77 L160.90,316.69 L161.32,309.82 L161.74,316.88 L162.16,310.76 L162.58,317.18 L163.00,310.12 L163.42,317.14 L163.84,310.67 L164.26,317.05 L164.68,310.56 L165.10,316.98 L165.52,310.57 L165.94,318.76 L166.36,310.31 L166.78,316.48 L167.20,310.27 L167.62,316.43 L168.04,310.70 L168.46,316.22 L168.88,309.87 L169.30,316.89 L169.72,310.25 L170.14,316.91 L170.56,310.49 L170.98,317.39 L171.40,309.96 L171.82,316.40 L172.24,309.93 L172.66,316.63 L173.08,309.92 L173.50,317.93 L173.92,310.36 L174.34,316.69 L174.76,310.77 L175.18,316.79 L175.60,310.38 L176.02,316.77 L176.44,310.30 L176.86,317.11 L177.28,310.07 L177.70,316.71 L178.12,309.78 L178.54,316.30 L178.96,310.45 L179.38,316.88 L179.80,310.07 L180.22,316.62 L180.64,310.68 L181.06,316.87 L181.48,310.20 L181.90,317.09 L182.32,310.10 L182.74,316.53 L183.16,310.28 L183.58,316.46 L184.00,309.74 L184.42,316.33 L184.84,310.37 L185.26,316.59 L185.68,310.70 L186.10,318.07 L186.52,310.46 L186.94,317.13 L187.36,310.30 L187.78,316.87 L188.20,310.43 L188.62,316.32 L189.04,310.57 L189.46,316.91 L189.88,310.39 L190.30,317.03 L190.72,309.90 L191.14,316.87 L191.56,309.88 L191.98,316.57 L192.40,309.77 L192.82,316.73 L193.24,309.75 L193.66,316.98 L194.08,309.83 L194.50,317.17" fill="none" stroke="#e8262a" stroke-width="0.9" stroke-linejoin="round"/>
<rect x="79.00" y="310.95" width="115.60" height="5.27" fill="#e8262a" stroke="none" stroke-width="0" />
<path d="M80.12,313.50 L80.32,324.09 L81.72,324.09 L82.22,318.40 L83.22,313.50 Z" fill="#e8262a"/>
<path d="M84.79,313.50 L84.99,335.77 L86.39,335.77 L86.89,318.40 L87.89,313.50 Z" fill="#e8262a"/>
<path d="M94.14,313.50 L94.34,324.09 L95.74,324.09 L96.24,318.40 L97.24,313.50 Z" fill="#e8262a"/>
<path d="M99.98,313.50 L100.18,320.59 L101.58,320.59 L102.08,318.40 L103.08,313.50 Z" fill="#e8262a"/>
<path d="M115.16,313.50 L115.36,320.59 L116.76,320.59 L117.26,318.40 L118.26,313.50 Z" fill="#e8262a"/>
<path d="M129.18,313.50 L129.38,322.92 L130.78,322.92 L131.28,318.40 L132.28,313.50 Z" fill="#e8262a"/>
<path d="M140.86,313.50 L141.06,321.76 L142.46,321.76 L142.96,318.40 L143.96,313.50 Z" fill="#e8262a"/>
<path d="M146.70,313.50 L146.90,326.43 L148.30,326.43 L148.80,318.40 L149.80,313.50 Z" fill="#e8262a"/>
<path d="M152.54,313.50 L152.74,321.76 L154.14,321.76 L154.64,318.40 L155.64,313.50 Z" fill="#e8262a"/>
<path d="M158.38,313.50 L158.58,325.26 L159.98,325.26 L160.48,318.40 L161.48,313.50 Z" fill="#e8262a"/>
<path d="M167.72,313.50 L167.92,321.76 L169.32,321.76 L169.82,318.40 L170.82,313.50 Z" fill="#e8262a"/>
<path d="M173.56,313.50 L173.76,320.59 L175.16,320.59 L175.66,318.40 L176.66,313.50 Z" fill="#e8262a"/>
<path d="M182.90,313.50 L183.10,327.60 L184.50,327.60 L185.00,318.40 L186.00,313.50 Z" fill="#e8262a"/>
<path d="M187.57,313.50 L187.77,321.76 L189.17,321.76 L189.67,318.40 L190.67,313.50 Z" fill="#e8262a"/>
<path d="M192.71,313.50 L192.91,321.76 L194.31,321.76 L194.81,318.40 L195.81,313.50 Z" fill="#e8262a"/>
<path d="M234.60,258.46 L235.02,266.73 L235.44,257.93 L235.86,267.39 L236.28,257.59 L236.70,266.35 L237.12,257.37 L237.54,266.63 L237.96,258.11 L238.38,269.58 L238.80,257.55 L239.22,266.71 L239.64,257.83 L240.06,266.09 L240.48,257.95 L240.90,269.94 L241.32,258.12 L241.74,266.97 L242.16,257.77 L242.58,267.24 L243.00,257.65 L243.42,266.60 L243.84,257.53 L244.26,267.39 L244.68,257.41 L245.10,266.59 L245.52,258.37 L245.94,266.68 L246.36,258.29 L246.78,266.79 L247.20,257.50 L247.62,266.92 L248.04,257.57 L248.46,267.34 L248.88,258.57 L249.30,267.16 L249.72,257.50 L250.14,266.77 L250.56,258.50 L250.98,267.12 L251.40,258.39 L251.82,266.09 L252.24,257.37 L252.66,266.12 L253.08,258.21 L253.50,266.20 L253.92,257.69 L254.34,269.83 L254.76,258.74 L255.18,266.97 L255.60,257.53 L256.02,267.32 L256.44,257.36 L256.86,269.02 L257.28,258.75 L257.70,266.27 L258.12,257.92 L258.54,269.75 L258.96,258.35 L259.38,267.29 L259.80,258.26 L260.22,266.62 L260.64,257.87 L261.06,266.80 L261.48,257.91 L261.90,267.27 L262.32,258.18 L262.74,266.97 L263.16,258.37 L263.58,267.32 L264.00,258.01 L264.42,266.02 L264.84,257.96 L265.26,266.03 L265.68,257.89 L266.10,266.08 L266.52,258.13 L266.94,266.92 L267.36,257.78 L267.78,267.71 L268.20,257.83 L268.62,267.30 L269.04,258.14 L269.46,266.80 L269.88,258.28 L270.30,266.42 L270.72,257.94 L271.14,266.41 L271.56,257.69 L271.98,266.04 L272.40,257.74 L272.82,266.42 L273.24,257.64 L273.66,268.35 L274.08,257.79 L274.50,266.14 L274.92,258.32 L275.34,267.13 L275.76,257.57 L276.18,266.23 L276.60,257.86 L277.02,267.19 L277.44,258.48 L277.86,266.16 L278.28,258.53 L278.70,267.09 L279.12,258.54 L279.54,266.38 L279.96,257.88 L280.38,267.09 L280.80,258.61 L281.22,266.39 L281.64,258.41 L282.06,266.47 L282.48,258.20 L282.90,266.55 L283.32,258.58 L283.74,266.01 L284.16,257.53 L284.58,267.33 L285.00,257.43 L285.42,267.25 L285.84,257.73 L286.26,267.13 L286.68,258.05 L287.10,266.39 L287.52,258.47 L287.94,266.09 L288.36,258.39 L288.78,270.76 L289.20,257.80 L289.62,267.25 L290.04,257.50 L290.46,269.89 L290.88,258.55 L291.30,266.40 L291.72,258.04 L292.14,266.56 L292.56,257.92 L292.98,266.46 L293.40,257.56 L293.82,266.64 L294.24,258.29 L294.66,266.27 L295.08,257.62 L295.50,266.23 L295.92,257.47 L296.34,267.09 L296.76,258.79 L297.18,266.85 L297.60,258.73 L298.02,266.37 L298.44,258.04 L298.86,266.57 L299.28,257.68 L299.70,266.95 L300.12,258.62 L300.54,266.09 L300.96,257.57 L301.38,266.12 L301.80,258.35 L302.22,266.42 L302.64,257.87 L303.06,266.79 L303.48,258.52 L303.90,268.89 L304.32,257.77 L304.74,267.64 L305.16,258.26 L305.58,266.82 L306.00,258.25 L306.42,267.08 L306.84,258.18 L307.26,266.50 L307.68,257.79 L308.10,266.57 L308.52,258.14 L308.94,266.33 L309.36,257.80 L309.78,266.10 L310.20,258.19 L310.62,267.19 L311.04,258.26 L311.46,267.21 L311.88,258.42 L312.30,269.97 L312.72,257.85 L313.14,267.20 L313.56,257.84 L313.98,266.99 L314.40,258.65 L314.82,267.80 L315.24,257.69 L315.66,266.91 L316.08,257.53 L316.50,269.69 L316.92,258.63 L317.34,267.14 L317.76,257.60 L318.18,267.29 L318.60,257.65 L319.02,266.05 L319.44,258.06 L319.86,270.09 L320.28,257.45 L320.70,266.08 L321.12,257.99 L321.54,267.12 L321.96,258.54 L322.38,266.34 L322.80,257.71 L323.22,266.53 L323.64,258.23 L324.06,266.47 L324.48,258.68 L324.90,266.68 L325.32,258.21 L325.74,269.93 L326.16,257.71 L326.58,266.91 L327.00,258.10 L327.42,266.87 L327.84,258.58 L328.26,266.13 L328.68,257.48 L329.10,266.70 L329.52,257.76 L329.94,266.25 L330.36,258.51 L330.78,266.79 L331.20,258.47 L331.62,266.93 L332.04,258.37 L332.46,266.95 L332.88,257.57 L333.30,266.79 L333.72,258.49 L334.14,266.03 L334.56,258.25 L334.98,266.23 L335.40,258.34 L335.82,271.01 L336.24,258.11 L336.66,266.81 L337.08,257.60 L337.50,267.11 L337.92,258.11 L338.34,266.97 L338.76,258.22 L339.18,266.99 L339.60,258.13 L340.02,266.31 L340.44,257.77 L340.86,266.91 L341.28,257.57 L341.70,267.73 L342.12,258.53 L342.54,266.95 L342.96,257.50 L343.38,266.34 L343.80,258.35 L344.22,266.57 L344.64,258.68 L345.06,266.13 L345.48,258.38 L345.90,266.48 L346.32,257.83 L346.74,266.01 L347.16,258.17 L347.58,269.20 L348.00,257.42 L348.42,266.53 L348.84,258.63 L349.26,266.37 L349.68,258.64 L350.10,267.20" fill="none" stroke="#0c0c0c" stroke-width="0.9" stroke-linejoin="round"/>
<rect x="234.60" y="259.02" width="115.70" height="6.98" fill="#0c0c0c" stroke="none" stroke-width="0" />
<path d="M239.28,262.40 L239.48,283.21 L240.88,283.21 L241.38,268.40 L242.38,262.40 Z" fill="#0c0c0c"/>
<path d="M248.63,262.40 L248.83,270.37 L250.23,270.37 L250.73,268.40 L251.73,262.40 Z" fill="#0c0c0c"/>
<path d="M259.14,262.40 L259.34,272.70 L260.74,272.70 L261.24,268.40 L262.24,262.40 Z" fill="#0c0c0c"/>
<path d="M266.15,262.40 L266.35,271.53 L267.75,271.53 L268.25,268.40 L269.25,262.40 Z" fill="#0c0c0c"/>
<path d="M273.15,262.40 L273.35,272.70 L274.75,272.70 L275.25,268.40 L276.25,262.40 Z" fill="#0c0c0c"/>
<path d="M280.16,262.40 L280.36,284.38 L281.76,284.38 L282.26,268.40 L283.26,262.40 Z" fill="#0c0c0c"/>
<path d="M287.17,262.40 L287.37,272.70 L288.77,272.70 L289.27,268.40 L290.27,262.40 Z" fill="#0c0c0c"/>
<path d="M294.18,262.40 L294.38,270.37 L295.78,270.37 L296.28,268.40 L297.28,262.40 Z" fill="#0c0c0c"/>
<path d="M303.52,262.40 L303.72,271.53 L305.12,271.53 L305.62,268.40 L306.62,262.40 Z" fill="#0c0c0c"/>
<path d="M312.86,262.40 L313.06,277.37 L314.46,277.37 L314.96,268.40 L315.96,262.40 Z" fill="#0c0c0c"/>
<path d="M317.54,262.40 L317.74,290.22 L319.14,290.22 L319.64,268.40 L320.64,262.40 Z" fill="#0c0c0c"/>
<path d="M324.54,262.40 L324.74,272.70 L326.14,272.70 L326.64,268.40 L327.64,262.40 Z" fill="#0c0c0c"/>
<path d="M331.55,262.40 L331.75,275.04 L333.15,275.04 L333.65,268.40 L334.65,262.40 Z" fill="#0c0c0c"/>
<path d="M338.56,262.40 L338.76,272.70 L340.16,272.70 L340.66,268.40 L341.66,262.40 Z" fill="#0c0c0c"/>
<path d="M344.40,262.40 L344.60,277.37 L346.00,277.37 L346.50,268.40 L347.50,262.40 Z" fill="#0c0c0c"/>
<path d="M235.78,262.40 L235.98,269.90 L237.38,269.90 L237.88,268.40 L238.88,262.40 Z" fill="#0c0c0c"/>
<path d="M239.75,262.40 L239.95,269.90 L241.35,269.90 L241.85,268.40 L242.85,262.40 Z" fill="#0c0c0c"/>
<path d="M243.72,262.40 L243.92,269.90 L245.32,269.90 L245.82,268.40 L246.82,262.40 Z" fill="#0c0c0c"/>
<path d="M247.69,262.40 L247.89,269.90 L249.29,269.90 L249.79,268.40 L250.79,262.40 Z" fill="#0c0c0c"/>
<path d="M251.66,262.40 L251.86,269.90 L253.26,269.90 L253.76,268.40 L254.76,262.40 Z" fill="#0c0c0c"/>
<path d="M255.63,262.40 L255.83,269.90 L257.23,269.90 L257.73,268.40 L258.73,262.40 Z" fill="#0c0c0c"/>
<path d="M259.61,262.40 L259.81,269.90 L261.21,269.90 L261.71,268.40 L262.71,262.40 Z" fill="#0c0c0c"/>
<path d="M263.58,262.40 L263.78,269.90 L265.18,269.90 L265.68,268.40 L266.68,262.40 Z" fill="#0c0c0c"/>
<path d="M267.55,262.40 L267.75,269.90 L269.15,269.90 L269.65,268.40 L270.65,262.40 Z" fill="#0c0c0c"/>
<path d="M271.52,262.40 L271.72,269.90 L273.12,269.90 L273.62,268.40 L274.62,262.40 Z" fill="#0c0c0c"/>
<path d="M275.49,262.40 L275.69,269.90 L277.09,269.90 L277.59,268.40 L278.59,262.40 Z" fill="#0c0c0c"/>
<path d="M279.46,262.40 L279.66,269.90 L281.06,269.90 L281.56,268.40 L282.56,262.40 Z" fill="#0c0c0c"/>
<path d="M283.43,262.40 L283.63,269.90 L285.03,269.90 L285.53,268.40 L286.53,262.40 Z" fill="#0c0c0c"/>
<path d="M287.40,262.40 L287.60,269.90 L289.00,269.90 L289.50,268.40 L290.50,262.40 Z" fill="#0c0c0c"/>
<path d="M291.37,262.40 L291.57,269.90 L292.97,269.90 L293.47,268.40 L294.47,262.40 Z" fill="#0c0c0c"/>
<path d="M295.35,262.40 L295.55,269.90 L296.95,269.90 L297.45,268.40 L298.45,262.40 Z" fill="#0c0c0c"/>
<path d="M299.32,262.40 L299.52,269.90 L300.92,269.90 L301.42,268.40 L302.42,262.40 Z" fill="#0c0c0c"/>
<path d="M303.29,262.40 L303.49,269.90 L304.89,269.90 L305.39,268.40 L306.39,262.40 Z" fill="#0c0c0c"/>
<path d="M307.26,262.40 L307.46,269.90 L308.86,269.90 L309.36,268.40 L310.36,262.40 Z" fill="#0c0c0c"/>
<path d="M311.23,262.40 L311.43,269.90 L312.83,269.90 L313.33,268.40 L314.33,262.40 Z" fill="#0c0c0c"/>
<path d="M315.20,262.40 L315.40,269.90 L316.80,269.90 L317.30,268.40 L318.30,262.40 Z" fill="#0c0c0c"/>
<path d="M319.17,262.40 L319.37,269.90 L320.77,269.90 L321.27,268.40 L322.27,262.40 Z" fill="#0c0c0c"/>
<path d="M323.14,262.40 L323.34,269.90 L324.74,269.90 L325.24,268.40 L326.24,262.40 Z" fill="#0c0c0c"/>
<path d="M327.11,262.40 L327.31,269.90 L328.71,269.90 L329.21,268.40 L330.21,262.40 Z" fill="#0c0c0c"/>
<path d="M331.08,262.40 L331.28,269.90 L332.68,269.90 L333.18,268.40 L334.18,262.40 Z" fill="#0c0c0c"/>
<path d="M335.06,262.40 L335.26,269.90 L336.66,269.90 L337.16,268.40 L338.16,262.40 Z" fill="#0c0c0c"/>
<path d="M339.03,262.40 L339.23,269.90 L340.63,269.90 L341.13,268.40 L342.13,262.40 Z" fill="#0c0c0c"/>
<path d="M343.00,262.40 L343.20,269.90 L344.60,269.90 L345.10,268.40 L346.10,262.40 Z" fill="#0c0c0c"/>
<path d="M346.97,262.40 L347.17,269.90 L348.57,269.90 L349.07,268.40 L350.07,262.40 Z" fill="#0c0c0c"/>
<path d="M234.60,310.59 L235.02,317.24 L235.44,310.69 L235.86,317.20 L236.28,309.73 L236.70,318.06 L237.12,310.60 L237.54,317.75 L237.96,310.66 L238.38,320.06 L238.80,309.85 L239.22,318.06 L239.64,310.64 L240.06,317.48 L240.48,309.97 L240.90,318.12 L241.32,310.77 L241.74,317.83 L242.16,310.25 L242.58,317.33 L243.00,310.77 L243.42,318.21 L243.84,310.20 L244.26,317.47 L244.68,310.17 L245.10,318.15 L245.52,310.25 L245.94,317.60 L246.36,310.34 L246.78,317.31 L247.20,309.87 L247.62,319.24 L248.04,310.53 L248.46,317.75 L248.88,310.45 L249.30,319.82 L249.72,310.63 L250.14,317.86 L250.56,310.44 L250.98,317.99 L251.40,310.18 L251.82,318.83 L252.24,310.59 L252.66,318.02 L253.08,310.58 L253.50,319.15 L253.92,310.83 L254.34,317.94 L254.76,309.69 L255.18,317.98 L255.60,310.86 L256.02,317.46 L256.44,309.91 L256.86,317.60 L257.28,310.11 L257.70,318.08 L258.12,310.64 L258.54,319.09 L258.96,309.68 L259.38,318.12 L259.80,310.67 L260.22,318.04 L260.64,310.52 L261.06,317.23 L261.48,310.35 L261.90,318.00 L262.32,310.67 L262.74,318.51 L263.16,310.27 L263.58,317.41 L264.00,310.73 L264.42,317.74 L264.84,310.37 L265.26,318.28 L265.68,310.58 L266.10,319.15 L266.52,310.57 L266.94,318.16 L267.36,310.26 L267.78,317.16 L268.20,310.58 L268.62,317.36 L269.04,309.79 L269.46,320.11 L269.88,310.17 L270.30,318.28 L270.72,309.76 L271.14,317.89 L271.56,309.95 L271.98,318.73 L272.40,309.79 L272.82,318.17 L273.24,310.46 L273.66,317.89 L274.08,310.08 L274.50,318.07 L274.92,310.06 L275.34,317.92 L275.76,309.73 L276.18,321.17 L276.60,309.68 L277.02,320.65 L277.44,310.72 L277.86,318.25 L278.28,310.80 L278.70,317.32 L279.12,310.17 L279.54,317.99 L279.96,310.61 L280.38,317.12 L280.80,310.86 L281.22,320.67 L281.64,309.90 L282.06,318.15 L282.48,309.78 L282.90,317.36 L283.32,310.47 L283.74,318.16 L284.16,310.29 L284.58,318.32 L285.00,310.14 L285.42,317.69 L285.84,310.12 L286.26,317.28 L286.68,309.92 L287.10,320.33 L287.52,309.85 L287.94,317.22 L288.36,310.40 L288.78,318.04 L289.20,310.59 L289.62,317.69 L290.04,310.76 L290.46,317.25 L290.88,309.78 L291.30,317.72 L291.72,309.81 L292.14,320.73 L292.56,310.64 L292.98,317.47 L293.40,310.35 L293.82,320.74 L294.24,310.66 L294.66,317.29 L295.08,310.46 L295.50,317.75 L295.92,309.99 L296.34,317.13 L296.76,310.20 L297.18,317.69 L297.60,310.28 L298.02,317.21 L298.44,309.82 L298.86,317.54 L299.28,309.65 L299.70,317.85 L300.12,310.12 L300.54,317.49 L300.96,310.30 L301.38,318.19 L301.80,309.80 L302.22,318.04 L302.64,310.33 L303.06,317.28 L303.48,310.43 L303.90,318.60 L304.32,310.70 L304.74,320.82 L305.16,310.42 L305.58,317.79 L306.00,310.11 L306.42,317.23 L306.84,309.71 L307.26,317.33 L307.68,310.47 L308.10,318.02 L308.52,309.70 L308.94,318.09 L309.36,309.87 L309.78,320.20 L310.20,310.26 L310.62,317.79 L311.04,309.93 L311.46,320.38 L311.88,310.04 L312.30,317.99 L312.72,309.84 L313.14,317.47 L313.56,310.37 L313.98,317.82 L314.40,310.00 L314.82,317.48 L315.24,310.47 L315.66,317.85 L316.08,309.76 L316.50,317.59 L316.92,309.86 L317.34,317.45 L317.76,310.86 L318.18,317.34 L318.60,310.01 L319.02,317.84 L319.44,309.69 L319.86,318.52 L320.28,309.66 L320.70,318.28 L321.12,310.13 L321.54,318.63 L321.96,310.60 L322.38,318.21 L322.80,309.91 L323.22,317.29 L323.64,310.51 L324.06,320.71 L324.48,310.03 L324.90,317.76 L325.32,310.55 L325.74,318.48 L326.16,310.84 L326.58,318.14 L327.00,309.64 L327.42,317.46 L327.84,310.00 L328.26,317.98 L328.68,309.69 L329.10,318.15 L329.52,310.18 L329.94,317.93 L330.36,310.19 L330.78,320.32 L331.20,310.28 L331.62,319.89 L332.04,310.56 L332.46,317.58 L332.88,309.80 L333.30,317.50 L333.72,310.35 L334.14,317.15 L334.56,310.86 L334.98,319.13 L335.40,309.82 L335.82,318.08 L336.24,310.19 L336.66,317.68 L337.08,310.65 L337.50,318.09 L337.92,310.00 L338.34,318.20 L338.76,310.41 L339.18,318.11 L339.60,310.15 L340.02,317.25 L340.44,309.74 L340.86,317.48 L341.28,309.76 L341.70,319.90 L342.12,310.56 L342.54,318.12 L342.96,310.50 L343.38,318.17 L343.80,310.46 L344.22,318.10 L344.64,309.77 L345.06,318.15 L345.48,310.01 L345.90,317.83 L346.32,309.65 L346.74,319.82 L347.16,310.26 L347.58,317.76 L348.00,310.57 L348.42,319.81 L348.84,309.75 L349.26,320.88 L349.68,309.85 L350.10,320.33" fill="none" stroke="#e8262a" stroke-width="0.9" stroke-linejoin="round"/>
<rect x="234.60" y="311.07" width="115.70" height="6.04" fill="#e8262a" stroke="none" stroke-width="0" />
<path d="M235.78,314.00 L235.98,320.59 L237.38,320.59 L237.88,319.40 L238.88,314.00 Z" fill="#e8262a"/>
<path d="M241.62,314.00 L241.82,324.09 L243.22,324.09 L243.72,319.40 L244.72,314.00 Z" fill="#e8262a"/>
<path d="M249.79,314.00 L249.99,320.59 L251.39,320.59 L251.89,319.40 L252.89,314.00 Z" fill="#e8262a"/>
<path d="M263.81,314.00 L264.01,320.59 L265.41,320.59 L265.91,319.40 L266.91,314.00 Z" fill="#e8262a"/>
<path d="M274.32,314.00 L274.52,321.76 L275.92,321.76 L276.42,319.40 L277.42,314.00 Z" fill="#e8262a"/>
<path d="M278.99,314.00 L279.19,325.26 L280.59,325.26 L281.09,319.40 L282.09,314.00 Z" fill="#e8262a"/>
<path d="M288.34,314.00 L288.54,335.77 L289.94,335.77 L290.44,319.40 L291.44,314.00 Z" fill="#e8262a"/>
<path d="M294.18,314.00 L294.38,329.93 L295.78,329.93 L296.28,319.40 L297.28,314.00 Z" fill="#e8262a"/>
<path d="M303.52,314.00 L303.72,320.59 L305.12,320.59 L305.62,319.40 L306.62,314.00 Z" fill="#e8262a"/>
<path d="M312.40,314.00 L312.60,332.27 L314.00,332.27 L314.50,319.40 L315.50,314.00 Z" fill="#e8262a"/>
<path d="M316.37,314.00 L316.57,331.10 L317.97,331.10 L318.47,319.40 L319.47,314.00 Z" fill="#e8262a"/>
<path d="M322.21,314.00 L322.41,320.59 L323.81,320.59 L324.31,319.40 L325.31,314.00 Z" fill="#e8262a"/>
<path d="M330.38,314.00 L330.58,327.60 L331.98,327.60 L332.48,319.40 L333.48,314.00 Z" fill="#e8262a"/>
<path d="M338.56,314.00 L338.76,322.92 L340.16,322.92 L340.66,319.40 L341.66,314.00 Z" fill="#e8262a"/>
<path d="M345.57,314.00 L345.77,326.43 L347.17,326.43 L347.67,319.40 L348.67,314.00 Z" fill="#e8262a"/>
<path d="M349.07,314.00 L349.27,322.92 L350.67,322.92 L351.17,319.40 L352.17,314.00 Z" fill="#e8262a"/>
<path d="M127.7,288.2 V298.5 H149" fill="none" stroke="#222" stroke-width="1.2"/>
<path d="M206.6,292.9 V298.8 H208.6" fill="none" stroke="#111" stroke-width="1"/>
<path d="M202.9,261 L207.1,260.4 L208.8,287.4 C210.0,277.4 212.1,272.2 212.6,269.2 C214.1,265.7 215.5,264.4 217,263.2 S222.3,261.6 225.3,261" fill="none" stroke="#0c0c0c" stroke-width="1.3" stroke-linejoin="round"/>
<path d="M203.6,314.9 L207.1,314.4 L208.8,340.8 C210.0,330.8 211.0,328.4 211.5,325.4 C213.0,321.9 213.9,319.4 215.4,318.2 S223.4,316.6 226.4,316" fill="none" stroke="#e8262a" stroke-width="1.3" stroke-linejoin="round"/>
<path d="M362.1,259.9 L365.9,259.1 L367.4,286.6 C368.59999999999997,276.6 370.4,271.7 370.9,268.7 C372.4,265.2 373.8,263.8 375.3,262.6 S381.1,260.1 384.1,259.5" fill="none" stroke="#0c0c0c" stroke-width="1.3" stroke-linejoin="round"/>
<path d="M361,313.8 L364.8,313.3 L366.3,340.3 C367.5,330.3 368.7,327.3 369.2,324.3 C370.7,320.8 372.1,317.8 373.6,316.6 S380.5,315.20000000000005 383.5,314.6" fill="none" stroke="#e8262a" stroke-width="1.3" stroke-linejoin="round"/>
<text transform="translate(118.34,239.40) scale(1.0499,1)" font-size="15" fill="#1a1a1a">P14</text>
<text transform="translate(263.62,239.40) scale(1.0432,1)" font-size="15" fill="#1a1a1a">6 weeks</text>
<text transform="translate(50.73,266.70) scale(0.9325,1)" font-size="15" fill="#1a1a1a">WT</text>
<text transform="translate(4.85,320.10) scale(1.0410,1)" font-size="15" fill="#1a1a1a">DPP6-KO</text>
<line x1="464.90" y1="218.60" x2="464.90" y2="361.90" stroke="#222" stroke-width="1.3" />
<line x1="463.30" y1="361.20" x2="554.80" y2="361.20" stroke="#222" stroke-width="1.3" />
<text x="459.8" y="366.2" font-size="13.5" text-anchor="end" font-weight="normal" fill="#1a1a1a" >0</text>
<text x="459.8" y="342.5" font-size="13.5" text-anchor="end" font-weight="normal" fill="#1a1a1a" >10</text>
<line x1="462.80" y1="337.50" x2="464.90" y2="337.50" stroke="#222" stroke-width="1.1" />
<text x="459.8" y="318.8" font-size="13.5" text-anchor="end" font-weight="normal" fill="#1a1a1a" >20</text>
<line x1="462.80" y1="313.80" x2="464.90" y2="313.80" stroke="#222" stroke-width="1.1" />
<text x="459.8" y="295.1" font-size="13.5" text-anchor="end" font-weight="normal" fill="#1a1a1a" >30</text>
<line x1="462.80" y1="290.10" x2="464.90" y2="290.10" stroke="#222" stroke-width="1.1" />
<text x="459.8" y="271.4" font-size="13.5" text-anchor="end" font-weight="normal" fill="#1a1a1a" >40</text>
<line x1="462.80" y1="266.40" x2="464.90" y2="266.40" stroke="#222" stroke-width="1.1" />
<text x="459.8" y="247.7" font-size="13.5" text-anchor="end" font-weight="normal" fill="#1a1a1a" >50</text>
<line x1="462.80" y1="242.70" x2="464.90" y2="242.70" stroke="#222" stroke-width="1.1" />
<text x="459.8" y="224.0" font-size="13.5" text-anchor="end" font-weight="normal" fill="#1a1a1a" >60</text>
<line x1="462.80" y1="219.00" x2="464.90" y2="219.00" stroke="#222" stroke-width="1.1" />
<line x1="476.50" y1="276.90" x2="476.50" y2="285.10" stroke="#111" stroke-width="1.2" />
<line x1="471.20" y1="276.90" x2="481.80" y2="276.90" stroke="#111" stroke-width="1.2" />
<rect x="469.40" y="285.10" width="14.20" height="76.10" fill="#0a0a0a" stroke="none" stroke-width="0" />
<line x1="494.15" y1="328.60" x2="494.15" y2="335.20" stroke="#111" stroke-width="1.2" />
<line x1="489.35" y1="328.60" x2="498.95" y2="328.60" stroke="#111" stroke-width="1.2" />
<rect x="487.80" y="335.70" width="12.70" height="25.50" fill="#e8262a" stroke="#1a0a0a" stroke-width="1.0" />
<line x1="519.60" y1="249.30" x2="519.60" y2="257.70" stroke="#111" stroke-width="1.2" />
<line x1="514.60" y1="249.30" x2="524.60" y2="249.30" stroke="#111" stroke-width="1.2" />
<rect x="512.30" y="257.70" width="14.60" height="103.50" fill="#0a0a0a" stroke="none" stroke-width="0" />
<line x1="536.85" y1="320.50" x2="536.85" y2="323.50" stroke="#111" stroke-width="1.2" />
<line x1="532.05" y1="320.50" x2="541.65" y2="320.50" stroke="#111" stroke-width="1.2" />
<rect x="530.30" y="324.00" width="13.10" height="37.20" fill="#e8262a" stroke="#1a0a0a" stroke-width="1.0" />
<text x="493.0" y="327.8" font-size="13" text-anchor="middle" font-weight="bold" fill="#1a1a1a" >*</text>
<text x="535.2" y="319.4" font-size="13" text-anchor="middle" font-weight="bold" fill="#1a1a1a" >*</text>
<text transform="translate(469.54,378.70) scale(1.0459,1)" font-size="15" fill="#1a1a1a">P14</text>
<text transform="translate(505.01,378.70) scale(1.0488,1)" font-size="15" fill="#1a1a1a">6 weeks</text>
<text transform="translate(417.30,329.23) rotate(-90) scale(0.9607,1)" font-size="16" fill="#1a1a1a">Frequency</text>
<text transform="translate(434.20,339.33) rotate(-90) scale(0.9694,1)" font-size="16" fill="#1a1a1a">(events</text>
<text transform="translate(434.20,285.44) rotate(-90) scale(0.9966,1)" font-size="16" fill="#1a1a1a">min</text>
<text transform="translate(428.00,260.14) rotate(-90) scale(1.0298,1)" font-size="10.5" fill="#1a1a1a">−1</text>
<text transform="translate(434.20,247.50) rotate(-90) scale(1.2028,1)" font-size="16" fill="#1a1a1a">)</text>
<line x1="586.30" y1="221.00" x2="586.30" y2="361.90" stroke="#222" stroke-width="1.3" />
<line x1="584.10" y1="361.20" x2="677.10" y2="361.20" stroke="#222" stroke-width="1.3" />
<text x="581.4" y="366.2" font-size="13.5" text-anchor="end" font-weight="normal" fill="#1a1a1a" >0</text>
<text x="581.4" y="343.07" font-size="13.5" text-anchor="end" font-weight="normal" fill="#1a1a1a" >2</text>
<line x1="584.30" y1="338.07" x2="586.30" y2="338.07" stroke="#222" stroke-width="1.1" />
<text x="581.4" y="319.94" font-size="13.5" text-anchor="end" font-weight="normal" fill="#1a1a1a" >4</text>
<line x1="584.30" y1="314.94" x2="586.30" y2="314.94" stroke="#222" stroke-width="1.1" />
<text x="581.4" y="296.81" font-size="13.5" text-anchor="end" font-weight="normal" fill="#1a1a1a" >6</text>
<line x1="584.30" y1="291.81" x2="586.30" y2="291.81" stroke="#222" stroke-width="1.1" />
<text x="581.4" y="273.68" font-size="13.5" text-anchor="end" font-weight="normal" fill="#1a1a1a" >8</text>
<line x1="584.30" y1="268.68" x2="586.30" y2="268.68" stroke="#222" stroke-width="1.1" />
<text x="581.4" y="250.55" font-size="13.5" text-anchor="end" font-weight="normal" fill="#1a1a1a" >10</text>
<line x1="584.30" y1="245.55" x2="586.30" y2="245.55" stroke="#222" stroke-width="1.1" />
<text x="581.4" y="227.42" font-size="13.5" text-anchor="end" font-weight="normal" fill="#1a1a1a" >12</text>
<line x1="584.30" y1="222.42" x2="586.30" y2="222.42" stroke="#222" stroke-width="1.1" />
<line x1="597.00" y1="235.60" x2="597.00" y2="244.90" stroke="#111" stroke-width="1.2" />
<line x1="592.70" y1="235.60" x2="601.30" y2="235.60" stroke="#111" stroke-width="1.2" />
<rect x="590.00" y="244.90" width="14.00" height="116.30" fill="#0a0a0a" stroke="none" stroke-width="0" />
<line x1="615.35" y1="249.60" x2="615.35" y2="256.50" stroke="#111" stroke-width="1.2" />
<line x1="610.35" y1="249.60" x2="620.35" y2="249.60" stroke="#111" stroke-width="1.2" />
<rect x="608.80" y="257.00" width="13.10" height="104.20" fill="#e8262a" stroke="#1a0a0a" stroke-width="1.0" />
<line x1="641.30" y1="239.70" x2="641.30" y2="244.20" stroke="#111" stroke-width="1.2" />
<line x1="636.30" y1="239.70" x2="646.30" y2="239.70" stroke="#111" stroke-width="1.2" />
<rect x="634.20" y="244.20" width="14.20" height="117.00" fill="#0a0a0a" stroke="none" stroke-width="0" />
<line x1="659.75" y1="248.50" x2="659.75" y2="258.50" stroke="#111" stroke-width="1.2" />
<line x1="654.75" y1="248.50" x2="664.75" y2="248.50" stroke="#111" stroke-width="1.2" />
<rect x="653.20" y="259.00" width="13.10" height="102.20" fill="#e8262a" stroke="#1a0a0a" stroke-width="1.0" />
<text transform="translate(593.54,378.70) scale(1.0499,1)" font-size="15" fill="#1a1a1a">P14</text>
<text transform="translate(626.92,378.70) scale(1.0339,1)" font-size="15" fill="#1a1a1a">6 weeks</text>
<text transform="translate(560.80,341.50) rotate(-90) scale(0.9318,1)" font-size="16" fill="#1a1a1a">Amplitude</text>
<text transform="translate(560.80,270.72) rotate(-90) scale(1.0623,1)" font-size="16" fill="#1a1a1a">(pA)</text>
<text transform="translate(111.12,426.80) scale(0.9909,1)" font-size="15.5" fill="#1a1a1a">WT</text>
<text transform="translate(155.44,426.80) scale(1.0165,1)" font-size="15.5" fill="#1a1a1a">DPP6-KO</text>
<defs><filter id="be" x="-20%" y="-5%" width="140%" height="110%"><feGaussianBlur stdDeviation="0.4"/></filter><filter id="be2" x="-30%" y="-10%" width="160%" height="120%"><feGaussianBlur stdDeviation="1.8"/></filter><filter id="nz" x="0" y="0" width="100%" height="100%"><feTurbulence type="fractalNoise" baseFrequency="0.4" numOctaves="2" seed="3"/><feColorMatrix type="matrix" values="0 0 0 0 0.16  0 0 0 0 0.42  0 0 0 0 0.2  0 0.7 0 0 -0.3"/></filter><linearGradient id="gwt" x1="0" y1="0" x2="0" y2="1"><stop offset="0" stop-color="#0d2613"/><stop offset="0.5" stop-color="#0b2011"/><stop offset="0.7" stop-color="#122e19"/><stop offset="1" stop-color="#1d4425"/></linearGradient><linearGradient id="gko" x1="0" y1="0" x2="0.6" y2="1"><stop offset="0" stop-color="#173c20"/><stop offset="0.3" stop-color="#0e2816"/><stop offset="1" stop-color="#0b2112"/></linearGradient></defs>
<rect x="95.20" y="435.80" width="55.20" height="171.00" fill="url(#gwt)" stroke="none" stroke-width="0" />
<rect x="95.20" y="435.80" width="55.20" height="171.00" fill="#000" stroke="none" stroke-width="0" filter="url(#nz)" opacity="0.55"/>
<linearGradient id="gm" x1="0" y1="0" x2="0" y2="1"><stop offset="0.5" stop-color="#000"/><stop offset="0.85" stop-color="#fff"/></linearGradient><mask id="mwt" maskUnits="userSpaceOnUse" x="95.2" y="435.8" width="55.20" height="171.00"><rect x="95.2" y="435.8" width="55.20" height="171.00" fill="url(#gm)"/></mask>
<g mask="url(#mwt)">
<rect x="95.20" y="435.80" width="55.20" height="171.00" fill="#000" stroke="none" stroke-width="0" filter="url(#nz)" opacity="0.8"/>
</g>
<clipPath id="ce1"><rect x="95.2" y="435.8" width="55.20" height="171.00"/></clipPath>
<g clip-path="url(#ce1)">
<path d="M123.3,476.7 L123.0,484.6 L122.8,492.5 L122.5,500.5 L122.0,507.4 L121.0,519.3 L120.2,520.0 L119.3,531.9 L118.3,544.8 L115.8,554.7 L112.8,561.7 L110.4,567.6" fill="none" stroke="#1f8a30" stroke-width="3" opacity="0.4" filter="url(#be2)"/>
<path d="M122.5,502.4 L123.3,510.4 L123.8,519.3 L123.8,520.0 L124.7,531.9 L126.2,542.8 L128.2,549.8 L128.2,559.7 L126.2,566.6 L125.2,575.6" fill="none" stroke="#1f8a30" stroke-width="3" opacity="0.4" filter="url(#be2)"/>
<path d="M123.3,476.7 L123.2,479.5 L123.3,482.3 L123.0,484.6 L123.1,487.5 L122.5,489.9 L122.8,492.5 L123.0,495.3 L122.8,497.5 L122.5,500.5 L122.3,502.6 L122.2,505.1 L122.0,507.4 L121.4,509.6 L121.4,512.5 L121.6,514.3 L121.4,516.7 L121.0,519.3 L120.2,520.0 L120.1,522.1 L119.5,525.0 L119.4,526.9 L119.8,529.8 L119.3,531.9 L118.9,534.8 L118.9,537.2 L118.5,540.0 L118.6,542.5 L118.3,544.8 L118.0,547.1 L117.0,549.5 L116.2,551.9 L115.8,554.7 L114.7,557.1 L113.5,559.5 L112.8,561.7 L111.5,564.5 L110.4,567.6" fill="none" stroke="#4cd459" stroke-width="1.2" opacity="1.0" stroke-linejoin="round" stroke-linecap="round" filter="url(#be)"/>
<path d="M122.5,502.4 L123.0,505.1 L122.9,507.7 L123.3,510.4 L123.5,512.3 L123.8,514.5 L123.8,517.3 L123.8,519.3 L123.8,520.0 L123.6,522.6 L124.1,524.8 L124.0,526.8 L124.3,529.8 L124.7,531.9 L124.8,534.3 L125.6,536.6 L125.5,538.4 L126.0,540.8 L126.2,542.8 L126.6,545.3 L127.8,547.7 L128.2,549.8 L127.9,552.6 L127.9,554.6 L128.3,557.5 L128.2,559.7 L127.4,562.3 L126.9,564.2 L126.2,566.6 L125.9,568.6 L125.4,570.8 L125.6,573.7 L125.2,575.6" fill="none" stroke="#4cd459" stroke-width="1.2" opacity="1.0" stroke-linejoin="round" stroke-linecap="round" filter="url(#be)"/>
<path d="M123.3,474.7 L122.6,472.1 L122.9,470.2 L122.1,467.8 L121.8,465.7 L121.1,463.5 L120.3,460.7 L119.2,458.6 L118.8,455.8 L117.8,453.2 L117.7,450.3 L116.8,447.9 L116.6,445.7 L116.2,443.1 L115.4,440.4 L115.3,438.0" fill="none" stroke="#32a844" stroke-width="0.85" opacity="0.9" stroke-linejoin="round" stroke-linecap="round" filter="url(#be)"/>
<path d="M123.3,472.7 L123.8,470.3 L124.8,467.4 L125.7,464.7 L126.4,462.3 L126.7,459.4 L126.7,456.8" fill="none" stroke="#28853a" stroke-width="0.7" opacity="0.8" stroke-linejoin="round" stroke-linecap="round" filter="url(#be)"/>
<path d="M121.8,465.7 L121.4,463.3 L121.1,460.3 L120.8,457.8 L122.8,454.8" fill="none" stroke="#28853a" stroke-width="0.7" opacity="0.8" stroke-linejoin="round" stroke-linecap="round" filter="url(#be)"/>
<path d="M125.7,474.7 L127.0,472.2 L128.4,470.5 L130.2,468.1 L131.2,465.7 L131.6,463.1 L131.7,460.6 L132.5,458.6 L132.7,455.8 L132.8,453.4 L133.3,450.8 L133.4,448.3 L133.4,445.6 L133.7,442.9" fill="none" stroke="#32a844" stroke-width="0.85" opacity="0.9" stroke-linejoin="round" stroke-linecap="round" filter="url(#be)"/>
<path d="M131.2,465.7 L132.4,464.0 L134.1,462.4 L135.1,460.8 L136.7,458.8" fill="none" stroke="#28853a" stroke-width="0.7" opacity="0.8" stroke-linejoin="round" stroke-linecap="round" filter="url(#be)"/>
<path d="M117.8,472.7 L116.2,470.8 L114.0,468.7 L112.4,466.9 L110.9,464.7 L108.2,464.0 L105.7,463.0 L102.9,461.8" fill="none" stroke="#28853a" stroke-width="0.7" opacity="0.8" stroke-linejoin="round" stroke-linecap="round" filter="url(#be)"/>
<path d="M124.7,476.7 L127.6,477.2 L130.7,477.6 L132.8,479.2 L134.6,480.5 L136.7,481.6 L138.9,483.7 L141.0,485.9 L142.6,487.6 L144.4,489.2 L146.0,491.1 L148.1,492.5" fill="none" stroke="#32a844" stroke-width="0.85" opacity="0.9" stroke-linejoin="round" stroke-linecap="round" filter="url(#be)"/>
<path d="M136.7,481.6 L135.0,483.1 L132.7,484.6 L130.5,484.4 L128.2,483.7 L125.7,483.6" fill="none" stroke="#28853a" stroke-width="0.7" opacity="0.8" stroke-linejoin="round" stroke-linecap="round" filter="url(#be)"/>
<path d="M142.6,487.6 L142.8,490.1 L142.7,492.5 L142.7,495.2 L142.6,497.5" fill="none" stroke="#28853a" stroke-width="0.7" opacity="0.8" stroke-linejoin="round" stroke-linecap="round" filter="url(#be)"/>
<path d="M122.8,482.6 L121.2,484.7 L119.1,486.3 L117.8,488.6 L116.5,490.6 L115.1,492.7 L114.2,494.2 L112.8,496.5 L111.6,498.3 L110.0,500.2 L109.0,502.2 L107.9,504.4 L105.8,506.1 L104.2,508.3 L102.4,510.4" fill="none" stroke="#32a844" stroke-width="0.85" opacity="0.9" stroke-linejoin="round" stroke-linecap="round" filter="url(#be)"/>
<path d="M112.8,496.5 L109.9,496.1 L106.9,495.5" fill="none" stroke="#28853a" stroke-width="0.7" opacity="0.8" stroke-linejoin="round" stroke-linecap="round" filter="url(#be)"/>
<path d="M122.8,494.5 L121.6,496.8 L120.4,498.4 L119.6,500.4 L118.8,502.4 L117.3,504.7 L116.3,506.1 L115.3,508.1 L114.1,510.3 L112.8,512.4 L111.9,515.3 L111.1,517.6 L109.9,520.3" fill="none" stroke="#32a844" stroke-width="0.85" opacity="0.9" stroke-linejoin="round" stroke-linecap="round" filter="url(#be)"/>
<path d="M123.8,502.4 L125.3,504.5 L126.3,506.2 L127.7,508.4 L128.7,504.4" fill="none" stroke="#28853a" stroke-width="0.7" opacity="0.8" stroke-linejoin="round" stroke-linecap="round" filter="url(#be)"/>
<path d="M119.3,531.9 L117.9,533.6 L116.6,535.5 L114.8,536.9 L113.2,538.7 L111.8,540.5 L109.9,542.8" fill="none" stroke="#32a844" stroke-width="0.85" opacity="0.9" stroke-linejoin="round" stroke-linecap="round" filter="url(#be)"/>
<path d="M126.2,542.8 L124.8,545.2 L124.0,547.2 L122.8,549.8 L122.5,552.4 L121.9,554.5 L121.4,556.8 L121.5,559.2 L120.8,561.7" fill="none" stroke="#32a844" stroke-width="0.85" opacity="0.9" stroke-linejoin="round" stroke-linecap="round" filter="url(#be)"/>
<path d="M127.7,522.0 L129.4,524.6 L130.4,526.4 L131.7,528.9 L132.5,531.9 L132.7,534.9" fill="none" stroke="#28853a" stroke-width="0.7" opacity="0.8" stroke-linejoin="round" stroke-linecap="round" filter="url(#be)"/>
<path d="M125.7,534.9 L127.3,536.4 L129.4,538.2 L130.7,539.8 L132.5,541.8 L134.7,543.8" fill="none" stroke="#28853a" stroke-width="0.7" opacity="0.8" stroke-linejoin="round" stroke-linecap="round" filter="url(#be)"/>
<path d="M115.8,554.7 L112.8,551.7 L110.6,553.3 L108.9,554.7" fill="none" stroke="#28853a" stroke-width="0.7" opacity="0.8" stroke-linejoin="round" stroke-linecap="round" filter="url(#be)"/>
<path d="M114.3,559.7 L114.1,562.2 L114.2,565.2 L113.8,567.6 L112.5,570.1 L111.7,572.9 L111.1,574.9 L109.9,577.5" fill="none" stroke="#32a844" stroke-width="0.85" opacity="0.9" stroke-linejoin="round" stroke-linecap="round" filter="url(#be)"/>
<path d="M113.8,567.6 L115.7,569.4 L117.8,571.6 L119.5,573.4 L120.5,575.5 L121.8,577.5 L123.1,580.1 L124.2,582.5" fill="none" stroke="#32a844" stroke-width="0.85" opacity="0.9" stroke-linejoin="round" stroke-linecap="round" filter="url(#be)"/>
<path d="M114.3,575.6 L114.5,577.5 L114.5,579.9 L114.4,582.1 L114.3,584.5 L114.6,586.7 L115.0,588.9 L115.6,591.2 L115.8,593.4 L115.1,595.5 L115.0,598.2 L115.0,600.1 L114.3,602.3" fill="none" stroke="#28853a" stroke-width="0.7" opacity="0.8" stroke-linejoin="round" stroke-linecap="round" filter="url(#be)"/>
<path d="M115.8,593.4 L118.5,594.8 L121.8,595.9 L123.7,597.2 L125.7,598.4 L126.7,601.3" fill="none" stroke="#28853a" stroke-width="0.7" opacity="0.8" stroke-linejoin="round" stroke-linecap="round" filter="url(#be)"/>
<path d="M129.7,593.4 L132.3,593.5 L134.7,593.4 L136.6,596.2 L138.6,598.4 L139.5,600.3 L140.9,602.1 L141.6,604.3" fill="none" stroke="#32a844" stroke-width="0.85" opacity="0.9" stroke-linejoin="round" stroke-linecap="round" filter="url(#be)"/>
<ellipse cx="123.3" cy="476.7" rx="1.3" ry="2.3" fill="#8af58e" filter="url(#be)"/>
</g>
<rect x="157.50" y="435.80" width="55.10" height="171.00" fill="url(#gko)" stroke="none" stroke-width="0" />
<rect x="157.50" y="435.80" width="55.10" height="171.00" fill="#000" stroke="none" stroke-width="0" filter="url(#nz)" opacity="0.55"/>
<clipPath id="ce2"><rect x="157.5" y="435.8" width="55.10" height="171.00"/></clipPath>
<g clip-path="url(#ce2)">
<path d="M189.9,492.5 L190.2,502.4 L190.5,512.4 L190.2,522.3 L189.7,523.0 L188.2,529.9 L186.7,539.8 L185.3,551.7 L183.3,562.7" fill="none" stroke="#1f8a30" stroke-width="3" opacity="0.4" filter="url(#be2)"/>
<path d="M189.7,489.5 L189.2,477.6 L190.7,462.8 L193.7,450.9 L196.7,439.0" fill="none" stroke="#1f8a30" stroke-width="3" opacity="0.4" filter="url(#be2)"/>
<path d="M189.9,492.5 L189.9,495.2 L189.8,497.7 L190.3,499.9 L190.2,502.4 L190.1,505.1 L190.7,507.2 L190.4,509.9 L190.5,512.4 L190.4,514.7 L190.1,517.4 L190.5,519.5 L190.2,522.3 L189.7,523.0 L189.0,525.5 L188.9,527.7 L188.2,529.9 L187.5,532.6 L187.8,535.2 L187.3,537.0 L186.7,539.8 L186.7,542.0 L186.3,544.9 L186.0,546.7 L185.4,549.7 L185.3,551.7 L184.6,554.0 L184.4,555.9 L184.2,558.0 L183.4,560.4 L183.3,562.7" fill="none" stroke="#4cd459" stroke-width="1.2" opacity="1.0" stroke-linejoin="round" stroke-linecap="round" filter="url(#be)"/>
<path d="M183.3,562.7 L182.1,564.7 L181.7,567.5 L180.8,569.6 L179.9,572.0 L178.4,574.8 L177.3,577.5 L176.4,580.2 L175.6,582.7 L174.3,585.5 L173.2,588.3 L172.4,590.9 L171.9,593.4 L171.4,596.7 L170.9,599.4" fill="none" stroke="#32a844" stroke-width="0.85" opacity="0.9" stroke-linejoin="round" stroke-linecap="round" filter="url(#be)"/>
<path d="M183.3,562.7 L183.4,565.0 L183.4,567.2 L183.5,569.5 L183.8,571.6 L183.6,574.0 L183.3,576.8 L183.3,579.5 L183.9,581.9 L184.4,584.9 L184.8,587.5 L185.1,590.2 L185.8,592.5 L186.7,595.4 L186.9,597.4 L187.3,599.8 L187.0,602.3 L187.2,604.3" fill="none" stroke="#28853a" stroke-width="0.7" opacity="0.8" stroke-linejoin="round" stroke-linecap="round" filter="url(#be)"/>
<path d="M189.7,520.0 L189.8,522.6 L190.2,524.7 L191.2,527.6 L191.2,529.9 L191.2,532.3 L191.9,535.3 L191.7,537.9 L191.4,539.9 L190.8,542.4 L190.2,544.8 L189.5,547.0 L189.3,549.3 L188.7,551.7 L188.5,554.1 L188.6,557.1 L188.2,559.7" fill="none" stroke="#32a844" stroke-width="0.85" opacity="0.9" stroke-linejoin="round" stroke-linecap="round" filter="url(#be)"/>
<path d="M188.2,530.9 L187.3,533.1 L186.2,535.4 L185.0,537.7 L183.8,539.8 L182.0,541.3 L179.8,542.8 L178.7,544.8 L177.9,547.1 L177.3,549.8 L174.8,551.7" fill="none" stroke="#28853a" stroke-width="0.7" opacity="0.8" stroke-linejoin="round" stroke-linecap="round" filter="url(#be)"/>
<path d="M191.7,526.0 L193.3,527.9 L194.5,529.6 L195.7,531.9 L196.6,534.8 L197.7,537.1 L198.7,539.8 L198.9,542.0 L199.1,544.8" fill="none" stroke="#28853a" stroke-width="0.7" opacity="0.8" stroke-linejoin="round" stroke-linecap="round" filter="url(#be)"/>
<path d="M190.7,547.8 L192.0,550.0 L193.7,552.7 L193.9,555.0 L194.6,557.1 L194.7,559.7" fill="none" stroke="#28853a" stroke-width="0.7" opacity="0.8" stroke-linejoin="round" stroke-linecap="round" filter="url(#be)"/>
<path d="M189.7,489.5 L189.5,487.0 L189.3,484.6 L189.2,482.4 L189.0,480.3 L189.2,477.6 L189.4,475.5 L189.9,472.8 L190.0,470.5 L190.0,467.8 L190.3,465.4 L190.7,462.8 L191.5,460.1 L191.7,457.7 L192.3,455.3 L193.0,453.6 L193.7,450.9 L194.2,448.3 L194.9,445.9 L195.6,443.9 L195.8,441.2 L196.7,439.0" fill="none" stroke="#4cd459" stroke-width="1.2" opacity="1.0" stroke-linejoin="round" stroke-linecap="round" filter="url(#be)"/>
<path d="M189.7,488.6 L189.2,486.2 L188.5,483.2 L187.7,480.6 L187.6,477.8 L186.4,475.9 L186.2,472.9 L185.8,470.7 L185.5,468.5 L185.2,465.4 L184.6,462.7 L184.8,460.4 L184.3,457.8 L184.5,455.1 L183.9,452.7 L184.0,450.3 L183.8,448.1 L183.8,445.4 L183.5,443.7 L183.8,440.9" fill="none" stroke="#28853a" stroke-width="0.7" opacity="0.8" stroke-linejoin="round" stroke-linecap="round" filter="url(#be)"/>
<path d="M190.7,462.8 L191.5,460.3 L192.6,457.8 L193.4,455.2 L194.7,452.8 L195.2,450.5 L196.6,448.1 L197.3,445.5 L197.5,443.3 L198.7,440.9" fill="none" stroke="#32a844" stroke-width="0.85" opacity="0.9" stroke-linejoin="round" stroke-linecap="round" filter="url(#be)"/>
<path d="M191.2,486.6 L191.9,484.4 L192.5,482.3 L193.5,480.3 L193.9,477.8 L194.7,475.7 L195.7,473.3 L196.1,471.2 L196.9,469.4 L198.2,466.9 L198.6,464.6 L199.6,462.8 L200.5,460.5 L201.6,458.8 L202.4,456.5 L203.8,454.5 L204.6,452.8 L205.9,451.0 L207.5,449.1 L209.0,447.5 L210.6,445.9" fill="none" stroke="#32a844" stroke-width="0.85" opacity="0.9" stroke-linejoin="round" stroke-linecap="round" filter="url(#be)"/>
<path d="M192.7,486.6 L193.9,484.6 L195.0,482.7 L195.9,480.7 L196.6,478.9 L197.7,476.7 L199.0,475.0 L200.3,472.8 L201.2,470.9 L202.6,468.7 L203.5,466.3 L204.3,464.1 L205.4,462.3 L206.4,459.7 L207.6,457.8" fill="none" stroke="#28853a" stroke-width="0.7" opacity="0.8" stroke-linejoin="round" stroke-linecap="round" filter="url(#be)"/>
<path d="M188.7,491.5 L185.9,490.8 L182.8,490.0 L179.8,489.6 L177.2,489.6 L174.8,489.5 L173.1,488.9 L171.0,487.4 L168.9,486.6 L166.1,485.2 L163.4,484.1" fill="none" stroke="#32a844" stroke-width="0.85" opacity="0.9" stroke-linejoin="round" stroke-linecap="round" filter="url(#be)"/>
<path d="M174.8,489.5 L172.4,490.0 L170.3,491.4 L167.9,492.0 L165.2,492.1 L162.3,492.5 L159.5,493.0" fill="none" stroke="#32a844" stroke-width="0.85" opacity="0.9" stroke-linejoin="round" stroke-linecap="round" filter="url(#be)"/>
<path d="M184.8,492.5 L182.6,493.1 L180.4,494.1 L177.8,494.5 L175.6,496.4 L173.8,498.5 L173.1,500.4 L171.9,502.4" fill="none" stroke="#28853a" stroke-width="0.7" opacity="0.8" stroke-linejoin="round" stroke-linecap="round" filter="url(#be)"/>
<path d="M188.7,493.5 L186.9,495.0 L185.3,496.5 L185.2,499.8 L184.8,502.4" fill="none" stroke="#32a844" stroke-width="0.85" opacity="0.9" stroke-linejoin="round" stroke-linecap="round" filter="url(#be)"/>
<path d="M189.7,510.4 L187.8,511.7 L185.8,512.4 L183.8,510.4 L181.8,507.4" fill="none" stroke="#28853a" stroke-width="0.7" opacity="0.8" stroke-linejoin="round" stroke-linecap="round" filter="url(#be)"/>
<path d="M186.7,512.4 L185.8,514.6 L184.8,517.3 L184.5,519.7 L183.8,522.3" fill="none" stroke="#28853a" stroke-width="0.7" opacity="0.8" stroke-linejoin="round" stroke-linecap="round" filter="url(#be)"/>
<ellipse cx="189.7" cy="491.5" rx="1.3" ry="2.3" fill="#8af58e" filter="url(#be)"/>
</g>
<rect x="194.20" y="599.90" width="15.20" height="2.10" fill="#eefaee" stroke="none" stroke-width="0" />
<text x="389.2" y="426" font-size="15.5" text-anchor="middle" font-weight="normal" fill="#1a1a1a" >WT</text>
<text x="596.2" y="426" font-size="15.5" text-anchor="middle" font-weight="normal" fill="#1a1a1a" >DPP6-KO</text>
<circle cx="391.3" cy="521.4" r="14.3" fill="none" stroke="#5a5a5a" stroke-width="0.7" stroke-dasharray="0.9 0.5"/>
<circle cx="391.4" cy="521.4" r="28.15" fill="none" stroke="#5a5a5a" stroke-width="0.7" stroke-dasharray="0.9 0.5"/>
<circle cx="391.9" cy="521.4" r="42.4" fill="none" stroke="#5a5a5a" stroke-width="0.7" stroke-dasharray="0.9 0.5"/>
<circle cx="392.3" cy="521.4" r="56.8" fill="none" stroke="#5a5a5a" stroke-width="0.7" stroke-dasharray="0.9 0.5"/>
<circle cx="392.65" cy="521.4" r="69.85" fill="none" stroke="#5a5a5a" stroke-width="0.7" stroke-dasharray="0.9 0.5"/>
<circle cx="392.8" cy="521.4" r="82.7" fill="none" stroke="#5a5a5a" stroke-width="0.7" stroke-dasharray="0.9 0.5"/>
<circle cx="594.95" cy="522.3" r="14.8" fill="none" stroke="#5a5a5a" stroke-width="0.7" stroke-dasharray="0.9 0.5"/>
<circle cx="594.7" cy="522.3" r="28.1" fill="none" stroke="#5a5a5a" stroke-width="0.7" stroke-dasharray="0.9 0.5"/>
<circle cx="595.3" cy="522.3" r="42.4" fill="none" stroke="#5a5a5a" stroke-width="0.7" stroke-dasharray="0.9 0.5"/>
<circle cx="595.75" cy="522.3" r="56.55" fill="none" stroke="#5a5a5a" stroke-width="0.7" stroke-dasharray="0.9 0.5"/>
<circle cx="595.8" cy="522.3" r="69.6" fill="none" stroke="#5a5a5a" stroke-width="0.7" stroke-dasharray="0.9 0.5"/>
<circle cx="595.9" cy="522.3" r="82.7" fill="none" stroke="#5a5a5a" stroke-width="0.7" stroke-dasharray="0.9 0.5"/>
<path d="M392.5,520.7 L392.6,522.6 L392.5,524.9 L392.5,526.8 L393.0,528.6 L392.9,530.9 L393.1,533.0 L393.1,534.9 L393.6,537.0 L393.8,538.9 L393.9,541.1 L393.9,542.9 L394.1,545.4 L394.2,547.2 L394.2,547.0 L394.3,549.2 L394.2,551.3 L394.0,553.1 L394.2,555.2 L394.2,557.4 L394.0,559.1 L393.8,561.2 L393.7,563.6 L393.7,565.4 L393.5,567.7 L393.7,569.3 L393.3,571.6 L393.0,573.6 L393.2,575.7 L393.3,577.5 L393.1,579.5 L392.9,582.0 L392.6,583.6 L392.7,585.9 L392.6,587.9 L392.7,589.7 L393.1,592.2 L393.2,594.0 L393.4,596.0 L393.8,597.9 L394.0,600.0 L394.2,602.2 L394.4,604.5 L394.2,606.3 L394.7,608.2 L394.7,610.4" fill="none" stroke="#161616" stroke-width="1.3" stroke-linejoin="round" stroke-linecap="round"/>
<path d="M392.5,520.7 L391.7,518.9 L391.3,516.4 L390.5,514.8 L389.6,512.5 L388.9,510.7 L388.2,508.7 L387.9,507.0 L387.3,504.9 L386.6,503.3 L385.8,501.7 L385.3,499.7 L384.6,498.2 L384.0,496.1 L382.3,494.6 L380.4,493.6 L378.7,493.5 L376.7,493.4 L374.8,493.6" fill="none" stroke="#161616" stroke-width="0.9" stroke-linejoin="round" stroke-linecap="round"/>
<path d="M392.5,520.7 L392.1,518.5 L391.5,516.6 L391.2,514.7 L390.8,512.6 L390.7,510.4 L391.3,508.4 L391.7,506.3 L393.7,506.9 L393.7,508.9 L393.5,511.2 L393.2,513.5" fill="none" stroke="#161616" stroke-width="0.8" stroke-linejoin="round" stroke-linecap="round"/>
<path d="M392.5,520.7 L393.1,519.2 L394.0,517.2 L395.1,515.5 L395.8,513.7 L396.7,512.0 L397.3,510.4 L397.1,508.8 L397.2,506.9 L397.7,504.8 L397.2,502.6 L397.4,500.9 L397.6,499.3 L397.6,497.2" fill="none" stroke="#161616" stroke-width="0.8" stroke-linejoin="round" stroke-linecap="round"/>
<path d="M397.3,510.4 L399.0,509.2 L400.9,508.4" fill="none" stroke="#161616" stroke-width="0.7" stroke-linejoin="round" stroke-linecap="round"/>
<path d="M392.5,520.7 L390.8,519.2 L388.8,518.1 L387.4,516.6 L385.5,515.5 L383.7,515.0 L382.0,514.3 L380.2,513.5 L378.3,513.2 L376.3,512.5" fill="none" stroke="#161616" stroke-width="0.8" stroke-linejoin="round" stroke-linecap="round"/>
<path d="M392.5,520.7 L394.8,520.7 L396.5,520.4 L398.8,520.7 L400.4,521.5 L402.0,522.5 L403.6,523.6 L405.0,524.7 L406.2,525.7 L408.0,527.0 L409.5,527.9 L411.1,529.4 L412.6,530.5 L414.2,531.4" fill="none" stroke="#161616" stroke-width="0.9" stroke-linejoin="round" stroke-linecap="round"/>
<path d="M393.7,525.3 L395.3,525.4 L397.6,525.1 L399.3,525.0 L401.3,524.6 L402.9,524.7 L405.0,526.3 L407.0,527.8 L407.3,529.7 L407.9,531.2 L408.3,533.1 L408.5,535.0" fill="none" stroke="#161616" stroke-width="0.8" stroke-linejoin="round" stroke-linecap="round"/>
<path d="M405.0,524.7 L406.8,525.3 L408.5,525.8 L410.6,526.3" fill="none" stroke="#161616" stroke-width="0.7" stroke-linejoin="round" stroke-linecap="round"/>
<path d="M392.5,520.7 L391.7,522.7 L390.9,524.4 L390.5,526.1 L389.6,527.8 L388.8,529.3 L387.6,531.4 L386.7,533.1 L385.5,535.0 L384.3,536.6 L383.6,538.5 L382.2,540.4 L381.4,542.3 L380.4,544.2" fill="none" stroke="#161616" stroke-width="0.8" stroke-linejoin="round" stroke-linecap="round"/>
<path d="M385.5,535.0 L383.0,534.9 L380.9,534.5" fill="none" stroke="#161616" stroke-width="0.7" stroke-linejoin="round" stroke-linecap="round"/>
<path d="M389.6,527.8 L389.8,529.8 L389.9,531.6 L390.5,533.4 L390.7,535.0 L391.4,537.2 L391.5,539.0 L392.0,541.3 L392.7,543.1 L393.0,545.3 L393.5,547.5 L394.2,550.0" fill="none" stroke="#161616" stroke-width="0.9" stroke-linejoin="round" stroke-linecap="round"/>
<path d="M398.8,539.0 L398.6,541.4 L397.7,543.3 L397.3,545.2" fill="none" stroke="#161616" stroke-width="0.7" stroke-linejoin="round" stroke-linecap="round"/>
<path d="M395.8,545.0 L396.3,547.1 L396.7,549.2 L397.2,551.0 L397.8,553.2 L398.0,555.0 L398.2,557.5 L398.2,559.1 L398.8,561.1 L398.8,563.4 L398.4,565.6 L398.4,567.3 L397.8,569.4 L397.8,571.6 L397.3,573.8 L397.3,575.8 L396.9,577.9 L396.3,579.7 L395.6,582.0 L394.8,583.6 L393.7,585.9" fill="none" stroke="#161616" stroke-width="1.0" stroke-linejoin="round" stroke-linecap="round"/>
<path d="M398.8,563.4 L399.4,565.3 L400.3,567.5 L400.9,569.5 L401.0,571.8 L401.3,573.4 L401.5,575.6 L401.9,577.7 L401.8,579.8 L401.6,581.6 L401.5,583.7 L401.4,585.9 L400.9,587.9 L400.9,590.0" fill="none" stroke="#161616" stroke-width="0.8" stroke-linejoin="round" stroke-linecap="round"/>
<path d="M392.7,582.8 L393.9,584.6 L395.5,586.0 L396.8,587.9 L398.2,589.5 L399.5,591.4 L400.9,593.0 L402.4,594.6 L403.7,595.6 L405.0,597.1 L406.5,598.6 L408.0,600.2 L409.8,601.2 L412.1,602.2 L413.6,604.0 L415.2,605.3 L415.2,606.8" fill="none" stroke="#161616" stroke-width="0.9" stroke-linejoin="round" stroke-linecap="round"/>
<path d="M408.0,600.2 L407.9,602.9 L408.0,605.3 L409.3,607.1 L410.6,609.4" fill="none" stroke="#161616" stroke-width="0.8" stroke-linejoin="round" stroke-linecap="round"/>
<path d="M411.1,603.2 L412.1,606.3" fill="none" stroke="#161616" stroke-width="0.7" stroke-linejoin="round" stroke-linecap="round"/>
<path d="M393.2,594.0 L394.1,596.5 L394.7,599.2 L396.3,599.9 L397.8,601.2 L399.6,601.7 L401.9,601.7 L403.4,604.3" fill="none" stroke="#161616" stroke-width="0.8" stroke-linejoin="round" stroke-linecap="round"/>
<path d="M390.7,577.7 L389.9,579.5 L389.4,581.6 L389.1,583.8 L389.6,586.2 L389.6,587.9 L389.2,589.6 L388.8,591.5 L387.9,593.4 L387.6,595.1 L386.5,597.0 L385.4,599.1 L384.5,601.2" fill="none" stroke="#161616" stroke-width="0.8" stroke-linejoin="round" stroke-linecap="round"/>
<path d="M392.7,571.6 L391.0,572.7 L389.6,573.6 L387.8,575.2 L385.5,576.7" fill="none" stroke="#161616" stroke-width="0.8" stroke-linejoin="round" stroke-linecap="round"/>
<path d="M389.6,551.1 L388.8,553.0 L388.3,554.7 L388.3,556.6 L387.6,558.3 L387.6,560.5 L387.0,562.2 L386.8,564.5 L386.6,566.5" fill="none" stroke="#161616" stroke-width="0.8" stroke-linejoin="round" stroke-linecap="round"/>
<path d="M386.6,547.0 L385.8,549.0 L385.4,551.0 L384.7,553.2 L384.0,555.2" fill="none" stroke="#161616" stroke-width="0.7" stroke-linejoin="round" stroke-linecap="round"/>
<path d="M397.8,549.1 L399.2,550.2 L400.0,552.0 L401.4,553.2 L401.8,555.0 L401.9,557.1 L402.4,559.3" fill="none" stroke="#161616" stroke-width="0.8" stroke-linejoin="round" stroke-linecap="round"/>
<path d="M398.8,558.3 L400.9,560.0 L402.9,561.3 L404.3,563.0 L406.0,564.9" fill="none" stroke="#161616" stroke-width="0.8" stroke-linejoin="round" stroke-linecap="round"/>
<path d="M400.9,569.5 L403.0,571.0 L405.0,572.6 L407.7,572.5 L410.1,571.8" fill="none" stroke="#161616" stroke-width="0.8" stroke-linejoin="round" stroke-linecap="round"/>
<path d="M392.7,545.0 L392.6,547.2 L391.9,548.8 L391.7,551.1 L391.2,553.2 L391.0,555.3 L391.2,557.3 L391.0,559.6 L390.7,561.3 L390.8,563.3 L391.6,565.6 L392.1,567.3 L392.2,569.5" fill="none" stroke="#161616" stroke-width="0.9" stroke-linejoin="round" stroke-linecap="round"/>
<path d="M595.3,523.7 L595.7,525.8 L596.0,527.4 L596.7,528.9 L596.8,530.9 L597.3,533.6 L598.3,536.0 L598.6,538.2 L599.1,540.6 L599.1,543.1 L598.8,545.6 L598.8,548.2 L598.5,547.0 L598.4,549.0 L598.9,551.1 L598.8,553.2 L599.1,555.0 L598.6,557.1 L598.9,559.1 L598.8,561.3 L599.1,563.4 L599.2,565.6 L599.3,567.5 L600.4,569.8 L600.9,571.5 L601.9,573.6 L603.2,575.6 L603.8,577.7 L605.0,579.7 L605.5,582.0 L606.4,583.6 L607.0,585.9 L606.5,588.9 L608.5,590.5 L608.9,592.4 L608.7,594.4 L609.2,596.1 L609.0,598.1 L609.3,600.5 L610.1,603.2 L609.3,605.6 L609.0,607.8" fill="none" stroke="#161616" stroke-width="1.3" stroke-linejoin="round" stroke-linecap="round"/>
<path d="M595.3,523.7 L594.8,522.1 L594.3,519.9 L594.1,518.1 L593.7,516.6 L593.4,514.4 L593.0,512.6 L593.2,510.4 L592.7,508.4 L592.7,506.3 L592.8,504.3 L592.3,502.4 L592.5,500.2 L592.7,497.8 L592.9,496.0 L593.5,493.6" fill="none" stroke="#161616" stroke-width="0.9" stroke-linejoin="round" stroke-linecap="round"/>
<path d="M595.3,523.7 L594.5,522.0 L593.4,520.6 L592.3,518.9 L591.7,517.4 L590.7,515.5 L589.8,513.9 L589.5,512.3 L588.8,510.5 L588.5,508.6 L587.7,507.3 L587.1,505.3 L586.3,503.5 L586.0,501.2 L585.4,499.4 L585.0,497.2" fill="none" stroke="#161616" stroke-width="0.9" stroke-linejoin="round" stroke-linecap="round"/>
<path d="M595.3,523.7 L595.9,521.8 L596.3,519.8 L597.3,517.7 L597.6,515.4 L598.3,513.5 L598.8,511.2 L599.6,509.4 L600.1,507.2 L600.4,505.5 L600.9,503.3 L601.9,501.3 L602.5,499.4 L603.6,497.8 L604.7,495.6" fill="none" stroke="#161616" stroke-width="0.9" stroke-linejoin="round" stroke-linecap="round"/>
<path d="M596.8,518.6 L597.7,517.2 L598.4,515.0 L598.6,513.4 L599.2,511.6 L600.2,509.9 L600.9,508.4 L601.6,506.3 L602.0,504.6 L602.6,502.5 L603.4,500.2" fill="none" stroke="#161616" stroke-width="0.8" stroke-linejoin="round" stroke-linecap="round"/>
<path d="M595.3,523.7 L593.7,525.3 L591.7,525.2 L589.4,525.1 L587.8,524.7 L585.5,524.7 L583.8,525.7 L582.1,526.6 L580.4,527.3 L578.7,527.5 L577.0,528.1 L575.1,528.3 L573.3,528.6" fill="none" stroke="#161616" stroke-width="0.9" stroke-linejoin="round" stroke-linecap="round"/>
<path d="M585.5,511.5 L586.6,513.0 L587.4,514.5 L588.8,516.2 L589.6,517.6" fill="none" stroke="#161616" stroke-width="0.7" stroke-linejoin="round" stroke-linecap="round"/>
<path d="M591.7,533.4 L594.7,535.0 L596.3,535.5 L598.3,536.0" fill="none" stroke="#161616" stroke-width="0.8" stroke-linejoin="round" stroke-linecap="round"/>
<path d="M598.3,536.0 L600.2,536.5 L601.9,537.1 L603.9,537.5 L605.8,537.8 L607.5,538.0 L609.0,541.1" fill="none" stroke="#161616" stroke-width="0.8" stroke-linejoin="round" stroke-linecap="round"/>
<path d="M599.3,538.0 L600.8,539.4 L601.5,540.6 L602.9,542.1 L604.6,543.7 L606.0,545.7" fill="none" stroke="#161616" stroke-width="0.8" stroke-linejoin="round" stroke-linecap="round"/>
<path d="M598.8,565.4 L598.2,567.6 L597.3,569.3 L596.3,571.6 L595.5,573.8 L595.3,575.6 L594.7,577.7 L594.7,579.9 L594.5,581.9 L594.3,584.1 L594.5,585.8 L594.3,588.1 L594.2,590.0" fill="none" stroke="#161616" stroke-width="0.8" stroke-linejoin="round" stroke-linecap="round"/>
<path d="M606.5,590.0 L605.9,592.1 L605.7,594.3 L605.0,596.1 L603.8,597.8 L603.0,599.3 L601.9,600.7 L600.8,602.9 L600.2,605.3 L599.3,607.3" fill="none" stroke="#161616" stroke-width="0.8" stroke-linejoin="round" stroke-linecap="round"/>
<path d="M595.3,550.1 L594.5,551.9 L593.7,554.2 L592.5,556.8" fill="none" stroke="#161616" stroke-width="0.8" stroke-linejoin="round" stroke-linecap="round"/>
<path d="M599.1,541.1 L599.4,543.3 L600.2,545.2 L600.4,547.2 L600.9,545.0 L601.2,546.9 L602.1,548.5 L602.4,550.2 L602.9,552.2 L603.5,554.3 L604.4,556.0 L605.5,558.3 L606.1,560.1 L606.4,562.5 L606.5,564.3 L607.0,566.5" fill="none" stroke="#161616" stroke-width="1.2" stroke-linejoin="round" stroke-linecap="round"/>
<path d="M600.9,549.1 L600.8,551.2 L601.4,553.3 L601.3,555.2 L601.4,557.3 L601.5,559.4 L601.5,561.2 L601.9,563.3 L601.9,565.4 L603.4,568.5" fill="none" stroke="#161616" stroke-width="0.9" stroke-linejoin="round" stroke-linecap="round"/>
<path d="M603.9,545.0 L605.2,546.8 L605.8,548.1 L607.0,550.1" fill="none" stroke="#161616" stroke-width="0.7" stroke-linejoin="round" stroke-linecap="round"/>
<path d="M598.0,535.0 L597.8,536.8 L597.5,539.1 L597.3,541.1 L597.3,543.1 L597.0,545.4 L596.8,547.2 L597.0,546.0 L597.3,548.5 L598.0,551.1" fill="none" stroke="#161616" stroke-width="0.8" stroke-linejoin="round" stroke-linecap="round"/>
<line x1="66.50" y1="660.00" x2="66.50" y2="865.70" stroke="#111" stroke-width="1.6" />
<line x1="65.70" y1="864.90" x2="371.50" y2="864.90" stroke="#111" stroke-width="1.6" />
<line x1="62.90" y1="864.90" x2="66.50" y2="864.90" stroke="#111" stroke-width="1.2" />
<text x="57.9" y="869.5" font-size="13" text-anchor="end" font-weight="normal" fill="#1a1a1a" >0</text>
<line x1="62.90" y1="830.85" x2="66.50" y2="830.85" stroke="#111" stroke-width="1.2" />
<text x="57.9" y="835.45" font-size="13" text-anchor="end" font-weight="normal" fill="#1a1a1a" >2</text>
<line x1="62.90" y1="796.80" x2="66.50" y2="796.80" stroke="#111" stroke-width="1.2" />
<text x="57.9" y="801.4" font-size="13" text-anchor="end" font-weight="normal" fill="#1a1a1a" >4</text>
<line x1="62.90" y1="762.75" x2="66.50" y2="762.75" stroke="#111" stroke-width="1.2" />
<text x="57.9" y="767.35" font-size="13" text-anchor="end" font-weight="normal" fill="#1a1a1a" >6</text>
<line x1="62.90" y1="728.70" x2="66.50" y2="728.70" stroke="#111" stroke-width="1.2" />
<text x="57.9" y="733.3000000000001" font-size="13" text-anchor="end" font-weight="normal" fill="#1a1a1a" >8</text>
<line x1="62.90" y1="694.65" x2="66.50" y2="694.65" stroke="#111" stroke-width="1.2" />
<text x="57.9" y="699.25" font-size="13" text-anchor="end" font-weight="normal" fill="#1a1a1a" >10</text>
<line x1="62.90" y1="660.60" x2="66.50" y2="660.60" stroke="#111" stroke-width="1.2" />
<text x="57.9" y="665.2" font-size="13" text-anchor="end" font-weight="normal" fill="#1a1a1a" >12</text>
<line x1="88.40" y1="864.90" x2="88.40" y2="868.30" stroke="#111" stroke-width="1.2" />
<line x1="110.00" y1="864.90" x2="110.00" y2="868.30" stroke="#111" stroke-width="1.2" />
<line x1="130.50" y1="864.90" x2="130.50" y2="868.30" stroke="#111" stroke-width="1.2" />
<line x1="152.00" y1="864.90" x2="152.00" y2="868.30" stroke="#111" stroke-width="1.2" />
<line x1="172.50" y1="864.90" x2="172.50" y2="868.30" stroke="#111" stroke-width="1.2" />
<line x1="193.30" y1="864.90" x2="193.30" y2="868.30" stroke="#111" stroke-width="1.2" />
<line x1="215.00" y1="864.90" x2="215.00" y2="868.30" stroke="#111" stroke-width="1.2" />
<line x1="237.20" y1="864.90" x2="237.20" y2="868.30" stroke="#111" stroke-width="1.2" />
<line x1="259.30" y1="864.90" x2="259.30" y2="868.30" stroke="#111" stroke-width="1.2" />
<line x1="281.50" y1="864.90" x2="281.50" y2="868.30" stroke="#111" stroke-width="1.2" />
<line x1="303.50" y1="864.90" x2="303.50" y2="868.30" stroke="#111" stroke-width="1.2" />
<line x1="325.30" y1="864.90" x2="325.30" y2="868.30" stroke="#111" stroke-width="1.2" />
<line x1="347.40" y1="864.90" x2="347.40" y2="868.30" stroke="#111" stroke-width="1.2" />
<line x1="371.00" y1="864.90" x2="371.00" y2="868.30" stroke="#111" stroke-width="1.2" />
<text x="77.5" y="882.7" font-size="11.3" text-anchor="middle" font-weight="normal" fill="#1a1a1a" >0</text>
<text x="99.4" y="882.7" font-size="11.3" text-anchor="middle" font-weight="normal" fill="#1a1a1a" >20</text>
<text x="120.9" y="882.7" font-size="11.3" text-anchor="middle" font-weight="normal" fill="#1a1a1a" >40</text>
<text x="142.6" y="882.7" font-size="11.3" text-anchor="middle" font-weight="normal" fill="#1a1a1a" >60</text>
<text x="164.3" y="882.7" font-size="11.3" text-anchor="middle" font-weight="normal" fill="#1a1a1a" >80</text>
<text x="186.5" y="882.7" font-size="11.3" text-anchor="middle" font-weight="normal" fill="#1a1a1a" >100</text>
<text x="208.3" y="882.7" font-size="11.3" text-anchor="middle" font-weight="normal" fill="#1a1a1a" >120</text>
<text x="230.5" y="882.7" font-size="11.3" text-anchor="middle" font-weight="normal" fill="#1a1a1a" >140</text>
<text x="253.5" y="882.7" font-size="11.3" text-anchor="middle" font-weight="normal" fill="#1a1a1a" >160</text>
<text x="274.8" y="882.7" font-size="11.3" text-anchor="middle" font-weight="normal" fill="#1a1a1a" >180</text>
<text x="296.1" y="882.7" font-size="11.3" text-anchor="middle" font-weight="normal" fill="#1a1a1a" >200</text>
<text x="317.3" y="882.7" font-size="11.3" text-anchor="middle" font-weight="normal" fill="#1a1a1a" >220</text>
<text x="338.5" y="882.7" font-size="11.3" text-anchor="middle" font-weight="normal" fill="#1a1a1a" >240</text>
<text x="359.4" y="882.7" font-size="11.3" text-anchor="middle" font-weight="normal" fill="#1a1a1a" >260</text>
<line x1="120.15" y1="761.37" x2="120.15" y2="787.97" stroke="#111" stroke-width="1.4" />
<line x1="118.35" y1="761.37" x2="121.95" y2="761.37" stroke="#111" stroke-width="1.4" />
<line x1="118.35" y1="787.97" x2="121.95" y2="787.97" stroke="#111" stroke-width="1.4" />
<line x1="142.25" y1="726.30" x2="142.25" y2="752.90" stroke="#111" stroke-width="1.4" />
<line x1="140.45" y1="726.30" x2="144.05" y2="726.30" stroke="#111" stroke-width="1.4" />
<line x1="140.45" y1="752.90" x2="144.05" y2="752.90" stroke="#111" stroke-width="1.4" />
<line x1="161.65" y1="700.95" x2="161.65" y2="716.95" stroke="#111" stroke-width="1.4" />
<line x1="159.85" y1="700.95" x2="163.45" y2="700.95" stroke="#111" stroke-width="1.4" />
<line x1="159.85" y1="716.95" x2="163.45" y2="716.95" stroke="#111" stroke-width="1.4" />
<line x1="183.55" y1="692.20" x2="183.55" y2="711.40" stroke="#111" stroke-width="1.4" />
<line x1="181.75" y1="692.20" x2="185.35" y2="692.20" stroke="#111" stroke-width="1.4" />
<line x1="181.75" y1="711.40" x2="185.35" y2="711.40" stroke="#111" stroke-width="1.4" />
<line x1="205.65" y1="726.69" x2="205.65" y2="749.09" stroke="#111" stroke-width="1.4" />
<line x1="203.85" y1="726.69" x2="207.45" y2="726.69" stroke="#111" stroke-width="1.4" />
<line x1="203.85" y1="749.09" x2="207.45" y2="749.09" stroke="#111" stroke-width="1.4" />
<line x1="227.65" y1="747.79" x2="227.65" y2="778.39" stroke="#111" stroke-width="1.4" />
<line x1="225.85" y1="747.79" x2="229.45" y2="747.79" stroke="#111" stroke-width="1.4" />
<line x1="225.85" y1="778.39" x2="229.45" y2="778.39" stroke="#111" stroke-width="1.4" />
<line x1="249.65" y1="780.00" x2="249.65" y2="797.60" stroke="#111" stroke-width="1.4" />
<line x1="247.85" y1="780.00" x2="251.45" y2="780.00" stroke="#111" stroke-width="1.4" />
<line x1="247.85" y1="797.60" x2="251.45" y2="797.60" stroke="#111" stroke-width="1.4" />
<line x1="271.75" y1="796.15" x2="271.75" y2="815.15" stroke="#111" stroke-width="1.4" />
<line x1="269.95" y1="796.15" x2="273.55" y2="796.15" stroke="#111" stroke-width="1.4" />
<line x1="269.95" y1="815.15" x2="273.55" y2="815.15" stroke="#111" stroke-width="1.4" />
<line x1="294.05" y1="811.47" x2="294.05" y2="823.67" stroke="#111" stroke-width="1.4" />
<line x1="292.25" y1="811.47" x2="295.85" y2="811.47" stroke="#111" stroke-width="1.4" />
<line x1="292.25" y1="823.67" x2="295.85" y2="823.67" stroke="#111" stroke-width="1.4" />
<line x1="316.05" y1="815.48" x2="316.05" y2="829.88" stroke="#111" stroke-width="1.4" />
<line x1="314.25" y1="815.48" x2="317.85" y2="815.48" stroke="#111" stroke-width="1.4" />
<line x1="314.25" y1="829.88" x2="317.85" y2="829.88" stroke="#111" stroke-width="1.4" />
<line x1="338.15" y1="822.45" x2="338.15" y2="839.25" stroke="#111" stroke-width="1.4" />
<line x1="336.35" y1="822.45" x2="339.95" y2="822.45" stroke="#111" stroke-width="1.4" />
<line x1="336.35" y1="839.25" x2="339.95" y2="839.25" stroke="#111" stroke-width="1.4" />
<path d="M76.35,864.90 L98.25,842.60 L120.15,774.67 L142.25,739.60 L161.65,708.95 L183.55,701.80 L205.65,737.89 L227.65,763.09 L249.65,788.80 L271.75,805.65 L294.05,817.57 L316.05,822.68 L338.15,830.85 L359.45,858.77" fill="none" stroke="#0a0a0a" stroke-width="2.1" stroke-linejoin="round"/>
<polygon points="70.85,864.90 76.35,859.40 81.85,864.90 76.35,870.40" fill="#0a0a0a"/>
<polygon points="92.75,842.60 98.25,837.10 103.75,842.60 98.25,848.10" fill="#0a0a0a"/>
<polygon points="114.65,774.67 120.15,769.17 125.65,774.67 120.15,780.17" fill="#0a0a0a"/>
<polygon points="136.75,739.60 142.25,734.10 147.75,739.60 142.25,745.10" fill="#0a0a0a"/>
<polygon points="156.15,708.95 161.65,703.45 167.15,708.95 161.65,714.45" fill="#0a0a0a"/>
<polygon points="178.05,701.80 183.55,696.30 189.05,701.80 183.55,707.30" fill="#0a0a0a"/>
<polygon points="200.15,737.89 205.65,732.39 211.15,737.89 205.65,743.39" fill="#0a0a0a"/>
<polygon points="222.15,763.09 227.65,757.59 233.15,763.09 227.65,768.59" fill="#0a0a0a"/>
<polygon points="244.15,788.80 249.65,783.30 255.15,788.80 249.65,794.30" fill="#0a0a0a"/>
<polygon points="266.25,805.65 271.75,800.15 277.25,805.65 271.75,811.15" fill="#0a0a0a"/>
<polygon points="288.55,817.57 294.05,812.07 299.55,817.57 294.05,823.07" fill="#0a0a0a"/>
<polygon points="310.55,822.68 316.05,817.18 321.55,822.68 316.05,828.18" fill="#0a0a0a"/>
<polygon points="332.65,830.85 338.15,825.35 343.65,830.85 338.15,836.35" fill="#0a0a0a"/>
<polygon points="353.95,858.77 359.45,853.27 364.95,858.77 359.45,864.27" fill="#0a0a0a"/>
<line x1="98.25" y1="831.99" x2="98.25" y2="842.99" stroke="#111" stroke-width="1.4" />
<line x1="96.45" y1="831.99" x2="100.05" y2="831.99" stroke="#111" stroke-width="1.4" />
<line x1="96.45" y1="842.99" x2="100.05" y2="842.99" stroke="#111" stroke-width="1.4" />
<line x1="142.25" y1="768.17" x2="142.25" y2="784.57" stroke="#111" stroke-width="1.4" />
<line x1="140.45" y1="768.17" x2="144.05" y2="768.17" stroke="#111" stroke-width="1.4" />
<line x1="140.45" y1="784.57" x2="144.05" y2="784.57" stroke="#111" stroke-width="1.4" />
<line x1="161.65" y1="762.81" x2="161.65" y2="783.81" stroke="#111" stroke-width="1.4" />
<line x1="159.85" y1="762.81" x2="163.45" y2="762.81" stroke="#111" stroke-width="1.4" />
<line x1="159.85" y1="783.81" x2="163.45" y2="783.81" stroke="#111" stroke-width="1.4" />
<line x1="183.55" y1="763.96" x2="183.55" y2="775.16" stroke="#111" stroke-width="1.4" />
<line x1="181.75" y1="763.96" x2="185.35" y2="763.96" stroke="#111" stroke-width="1.4" />
<line x1="181.75" y1="775.16" x2="185.35" y2="775.16" stroke="#111" stroke-width="1.4" />
<line x1="205.65" y1="773.32" x2="205.65" y2="793.72" stroke="#111" stroke-width="1.4" />
<line x1="203.85" y1="773.32" x2="207.45" y2="773.32" stroke="#111" stroke-width="1.4" />
<line x1="203.85" y1="793.72" x2="207.45" y2="793.72" stroke="#111" stroke-width="1.4" />
<line x1="227.65" y1="794.29" x2="227.65" y2="807.49" stroke="#111" stroke-width="1.4" />
<line x1="225.85" y1="794.29" x2="229.45" y2="794.29" stroke="#111" stroke-width="1.4" />
<line x1="225.85" y1="807.49" x2="229.45" y2="807.49" stroke="#111" stroke-width="1.4" />
<line x1="249.65" y1="814.24" x2="249.65" y2="827.03" stroke="#111" stroke-width="1.4" />
<line x1="247.85" y1="814.24" x2="251.45" y2="814.24" stroke="#111" stroke-width="1.4" />
<line x1="247.85" y1="827.03" x2="251.45" y2="827.03" stroke="#111" stroke-width="1.4" />
<line x1="271.75" y1="835.89" x2="271.75" y2="845.89" stroke="#111" stroke-width="1.4" />
<line x1="269.95" y1="835.89" x2="273.55" y2="835.89" stroke="#111" stroke-width="1.4" />
<line x1="269.95" y1="845.89" x2="273.55" y2="845.89" stroke="#111" stroke-width="1.4" />
<line x1="294.05" y1="839.18" x2="294.05" y2="850.78" stroke="#111" stroke-width="1.4" />
<line x1="292.25" y1="839.18" x2="295.85" y2="839.18" stroke="#111" stroke-width="1.4" />
<line x1="292.25" y1="850.78" x2="295.85" y2="850.78" stroke="#111" stroke-width="1.4" />
<path d="M76.35,864.90 L98.25,837.49 L120.15,796.80 L142.25,776.37 L161.65,773.31 L183.55,769.56 L205.65,783.52 L227.65,800.89 L249.65,820.63 L271.75,840.89 L294.05,844.98 L316.05,848.05 L338.15,861.50 L359.45,863.88" fill="none" stroke="#e8202a" stroke-width="2.1" stroke-linejoin="round"/>
<rect x="72.05" y="860.60" width="8.60" height="8.60" fill="#e8202a" stroke="none" stroke-width="0" />
<rect x="93.95" y="833.19" width="8.60" height="8.60" fill="#e8202a" stroke="none" stroke-width="0" />
<rect x="115.85" y="792.50" width="8.60" height="8.60" fill="#e8202a" stroke="none" stroke-width="0" />
<rect x="137.95" y="772.07" width="8.60" height="8.60" fill="#e8202a" stroke="none" stroke-width="0" />
<rect x="157.35" y="769.01" width="8.60" height="8.60" fill="#e8202a" stroke="none" stroke-width="0" />
<rect x="179.25" y="765.26" width="8.60" height="8.60" fill="#e8202a" stroke="none" stroke-width="0" />
<rect x="201.35" y="779.22" width="8.60" height="8.60" fill="#e8202a" stroke="none" stroke-width="0" />
<rect x="223.35" y="796.59" width="8.60" height="8.60" fill="#e8202a" stroke="none" stroke-width="0" />
<rect x="245.35" y="816.34" width="8.60" height="8.60" fill="#e8202a" stroke="none" stroke-width="0" />
<rect x="267.45" y="836.59" width="8.60" height="8.60" fill="#e8202a" stroke="none" stroke-width="0" />
<rect x="289.75" y="840.68" width="8.60" height="8.60" fill="#e8202a" stroke="none" stroke-width="0" />
<rect x="311.75" y="843.75" width="8.60" height="8.60" fill="#e8202a" stroke="none" stroke-width="0" />
<rect x="333.85" y="857.20" width="8.60" height="8.60" fill="#e8202a" stroke="none" stroke-width="0" />
<rect x="355.15" y="859.58" width="8.60" height="8.60" fill="#e8202a" stroke="none" stroke-width="0" />
<text transform="translate(190.90,664.20) scale(1.0370,1)" font-size="15" fill="#1a1a1a">Apical</text>
<text transform="translate(35.30,865.94) rotate(-90) scale(1.0023,1)" font-size="15.5" fill="#1a1a1a">Num. of dendrite intersections</text>
<text transform="translate(291.92,902.30) scale(0.9510,1)" font-size="15.5" fill="#1a1a1a">Distance</text>
<text transform="translate(357.17,902.30) scale(1.0081,1)" font-size="15.5" fill="#1a1a1a">from</text>
<text transform="translate(394.24,902.30) scale(0.9911,1)" font-size="15.5" fill="#1a1a1a">soma</text>
<text transform="translate(437.32,902.30) scale(0.9495,1)" font-size="15.5" fill="#1a1a1a">(µm)</text>
<line x1="408.80" y1="673.00" x2="408.80" y2="868.70" stroke="#111" stroke-width="1.6" />
<line x1="408.00" y1="867.90" x2="549.70" y2="867.90" stroke="#111" stroke-width="1.6" />
<line x1="405.20" y1="867.90" x2="408.80" y2="867.90" stroke="#111" stroke-width="1.2" />
<text x="399.3" y="872.5" font-size="13" text-anchor="end" font-weight="normal" fill="#1a1a1a" >0</text>
<line x1="405.20" y1="835.50" x2="408.80" y2="835.50" stroke="#111" stroke-width="1.2" />
<text x="399.3" y="840.1" font-size="13" text-anchor="end" font-weight="normal" fill="#1a1a1a" >1</text>
<line x1="405.20" y1="803.10" x2="408.80" y2="803.10" stroke="#111" stroke-width="1.2" />
<text x="399.3" y="807.7" font-size="13" text-anchor="end" font-weight="normal" fill="#1a1a1a" >2</text>
<line x1="405.20" y1="770.70" x2="408.80" y2="770.70" stroke="#111" stroke-width="1.2" />
<text x="399.3" y="775.3000000000001" font-size="13" text-anchor="end" font-weight="normal" fill="#1a1a1a" >3</text>
<line x1="405.20" y1="738.30" x2="408.80" y2="738.30" stroke="#111" stroke-width="1.2" />
<text x="399.3" y="742.9" font-size="13" text-anchor="end" font-weight="normal" fill="#1a1a1a" >4</text>
<line x1="405.20" y1="705.90" x2="408.80" y2="705.90" stroke="#111" stroke-width="1.2" />
<text x="399.3" y="710.5" font-size="13" text-anchor="end" font-weight="normal" fill="#1a1a1a" >5</text>
<line x1="405.20" y1="673.50" x2="408.80" y2="673.50" stroke="#111" stroke-width="1.2" />
<text x="399.3" y="678.1" font-size="13" text-anchor="end" font-weight="normal" fill="#1a1a1a" >6</text>
<line x1="432.00" y1="867.90" x2="432.00" y2="871.30" stroke="#111" stroke-width="1.2" />
<line x1="455.30" y1="867.90" x2="455.30" y2="871.30" stroke="#111" stroke-width="1.2" />
<line x1="479.10" y1="867.90" x2="479.10" y2="871.30" stroke="#111" stroke-width="1.2" />
<line x1="502.10" y1="867.90" x2="502.10" y2="871.30" stroke="#111" stroke-width="1.2" />
<line x1="525.90" y1="867.90" x2="525.90" y2="871.30" stroke="#111" stroke-width="1.2" />
<line x1="549.30" y1="867.90" x2="549.30" y2="871.30" stroke="#111" stroke-width="1.2" />
<text x="420.7" y="885.1" font-size="11.3" text-anchor="middle" font-weight="normal" fill="#1a1a1a" >0</text>
<text x="444.7" y="885.1" font-size="11.3" text-anchor="middle" font-weight="normal" fill="#1a1a1a" >20</text>
<text x="466.9" y="885.1" font-size="11.3" text-anchor="middle" font-weight="normal" fill="#1a1a1a" >40</text>
<text x="490.7" y="885.1" font-size="11.3" text-anchor="middle" font-weight="normal" fill="#1a1a1a" >60</text>
<text x="514" y="885.1" font-size="11.3" text-anchor="middle" font-weight="normal" fill="#1a1a1a" >80</text>
<text x="538.6" y="885.1" font-size="11.3" text-anchor="middle" font-weight="normal" fill="#1a1a1a" >100</text>
<line x1="443.90" y1="690.10" x2="443.90" y2="715.10" stroke="#111" stroke-width="1.4" />
<line x1="440.30" y1="690.10" x2="447.50" y2="690.10" stroke="#111" stroke-width="1.4" />
<line x1="440.30" y1="715.10" x2="447.50" y2="715.10" stroke="#111" stroke-width="1.4" />
<line x1="466.90" y1="703.30" x2="466.90" y2="733.70" stroke="#111" stroke-width="1.4" />
<line x1="463.30" y1="703.30" x2="470.50" y2="703.30" stroke="#111" stroke-width="1.4" />
<line x1="463.30" y1="733.70" x2="470.50" y2="733.70" stroke="#111" stroke-width="1.4" />
<line x1="491.50" y1="759.50" x2="491.50" y2="788.50" stroke="#111" stroke-width="1.4" />
<line x1="487.90" y1="759.50" x2="495.10" y2="759.50" stroke="#111" stroke-width="1.4" />
<line x1="487.90" y1="788.50" x2="495.10" y2="788.50" stroke="#111" stroke-width="1.4" />
<line x1="514.00" y1="794.20" x2="514.00" y2="824.20" stroke="#111" stroke-width="1.4" />
<line x1="510.40" y1="794.20" x2="517.60" y2="794.20" stroke="#111" stroke-width="1.4" />
<line x1="510.40" y1="824.20" x2="517.60" y2="824.20" stroke="#111" stroke-width="1.4" />
<line x1="537.30" y1="849.80" x2="537.30" y2="864.80" stroke="#111" stroke-width="1.4" />
<line x1="533.70" y1="849.80" x2="540.90" y2="849.80" stroke="#111" stroke-width="1.4" />
<line x1="533.70" y1="864.80" x2="540.90" y2="864.80" stroke="#111" stroke-width="1.4" />
<path d="M419.60,866.60 L443.90,702.60 L466.90,718.50 L491.50,774.00 L514.00,809.20 L537.30,857.30" fill="none" stroke="#0a0a0a" stroke-width="2.1" stroke-linejoin="round"/>
<polygon points="414.10,866.60 419.60,861.10 425.10,866.60 419.60,872.10" fill="#0a0a0a"/>
<polygon points="438.40,702.60 443.90,697.10 449.40,702.60 443.90,708.10" fill="#0a0a0a"/>
<polygon points="461.40,718.50 466.90,713.00 472.40,718.50 466.90,724.00" fill="#0a0a0a"/>
<polygon points="486.00,774.00 491.50,768.50 497.00,774.00 491.50,779.50" fill="#0a0a0a"/>
<polygon points="508.50,809.20 514.00,803.70 519.50,809.20 514.00,814.70" fill="#0a0a0a"/>
<polygon points="531.80,857.30 537.30,851.80 542.80,857.30 537.30,862.80" fill="#0a0a0a"/>
<line x1="443.90" y1="745.40" x2="443.90" y2="781.40" stroke="#111" stroke-width="1.4" />
<line x1="440.30" y1="745.40" x2="447.50" y2="745.40" stroke="#111" stroke-width="1.4" />
<line x1="440.30" y1="781.40" x2="447.50" y2="781.40" stroke="#111" stroke-width="1.4" />
<line x1="466.90" y1="778.40" x2="466.90" y2="800.40" stroke="#111" stroke-width="1.4" />
<line x1="463.30" y1="778.40" x2="470.50" y2="778.40" stroke="#111" stroke-width="1.4" />
<line x1="463.30" y1="800.40" x2="470.50" y2="800.40" stroke="#111" stroke-width="1.4" />
<line x1="490.70" y1="811.40" x2="490.70" y2="825.40" stroke="#111" stroke-width="1.4" />
<line x1="487.10" y1="811.40" x2="494.30" y2="811.40" stroke="#111" stroke-width="1.4" />
<line x1="487.10" y1="825.40" x2="494.30" y2="825.40" stroke="#111" stroke-width="1.4" />
<line x1="513.50" y1="828.40" x2="513.50" y2="842.40" stroke="#111" stroke-width="1.4" />
<line x1="509.90" y1="828.40" x2="517.10" y2="828.40" stroke="#111" stroke-width="1.4" />
<line x1="509.90" y1="842.40" x2="517.10" y2="842.40" stroke="#111" stroke-width="1.4" />
<path d="M419.60,867.10 L443.90,763.40 L466.90,789.40 L490.70,818.40 L513.50,835.40 L537.30,858.10" fill="none" stroke="#f5101c" stroke-width="2.1" stroke-linejoin="round"/>
<rect x="415.50" y="863.00" width="8.20" height="8.20" fill="#f5101c" stroke="#c01a3a" stroke-width="0.6" />
<rect x="439.80" y="759.30" width="8.20" height="8.20" fill="#f5101c" stroke="#c01a3a" stroke-width="0.6" />
<rect x="462.80" y="785.30" width="8.20" height="8.20" fill="#f5101c" stroke="#c01a3a" stroke-width="0.6" />
<rect x="486.60" y="814.30" width="8.20" height="8.20" fill="#f5101c" stroke="#c01a3a" stroke-width="0.6" />
<rect x="509.40" y="831.30" width="8.20" height="8.20" fill="#f5101c" stroke="#c01a3a" stroke-width="0.6" />
<rect x="533.20" y="854.00" width="8.20" height="8.20" fill="#f5101c" stroke="#c01a3a" stroke-width="0.6" />
<text transform="translate(456.22,663.90) scale(1.0672,1)" font-size="15" fill="#1a1a1a">Basal</text>
<line x1="534.30" y1="688.00" x2="561.20" y2="688.00" stroke="#0a0a0a" stroke-width="2.1" />
<polygon points="542.20,688.00 547.70,682.50 553.20,688.00 547.70,693.50" fill="#0a0a0a"/>
<line x1="534.30" y1="712.00" x2="561.20" y2="712.00" stroke="#f5101c" stroke-width="2.1" />
<rect x="543.60" y="707.90" width="8.20" height="8.20" fill="#f5101c" stroke="#c01a3a" stroke-width="0.6" />
<text transform="translate(565.13,694.50) scale(0.9760,1)" font-size="15" fill="#1a1a1a">WT</text>
<text transform="translate(563.93,718.60) scale(1.0582,1)" font-size="15" fill="#1a1a1a">DPP6-KO</text>

</svg>
</body></html>
